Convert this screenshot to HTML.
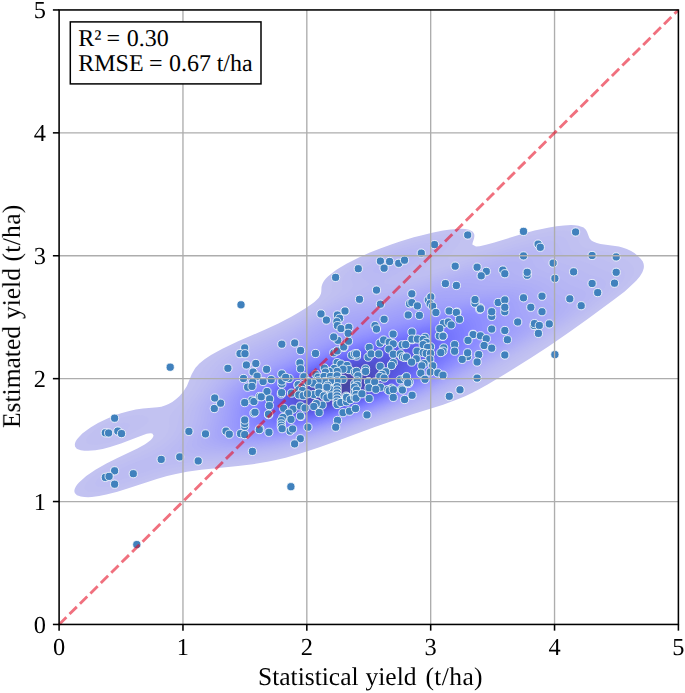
<!DOCTYPE html>
<html lang="en"><head><meta charset="utf-8"><title>Estimated vs statistical yield</title>
<style>html,body{margin:0;padding:0;background:#fff}body{width:685px;height:693px;overflow:hidden}svg{display:block}text{font-family:"Liberation Serif","Times New Roman",serif;fill:#000;text-rendering:geometricPrecision}</style></head><body>
<svg width="685" height="693" viewBox="0 0 685 693">
<rect width="685" height="693" fill="#fff"/>
<g id="kde" shape-rendering="geometricPrecision">
<path fill="#c2c2f1" d="M76.9,495.2 80.8,496.6 84.4,497.1 88.1,497.2 91.8,497.0 99.1,496.0 106.4,494.6 117.4,491.7 128.4,488.3 157.6,478.8 167.1,476.1 175.9,474.0 186.9,471.8 201.2,469.7 238.1,466.1 252.8,464.3 267.4,461.8 274.7,460.3 285.7,457.7 300.4,453.6 318.7,447.6 337.0,441.0 374.1,427.3 392.2,420.9 411.7,414.5 443.1,404.8 457.7,399.3 465.1,396.2 472.4,392.7 479.5,389.0 487.2,384.8 501.4,376.3 531.9,357.2 549.2,345.9 569.8,331.7 587.7,319.0 613.8,299.8 624.7,291.4 629.6,287.1 636.2,280.7 639.8,276.5 642.4,272.2 643.2,270.1 643.8,268.0 643.9,265.9 643.6,263.7 642.8,261.6 640.7,258.7 637.1,255.2 634.4,253.1 631.1,251.0 626.8,248.9 622.4,247.4 618.8,246.5 600.5,243.9 596.8,243.1 593.1,241.6 591.4,240.4 589.5,238.3 588.6,236.1 587.1,231.9 585.9,229.8 583.6,227.6 582.2,226.9 578.5,225.8 574.8,225.3 571.2,225.1 563.9,225.4 556.5,226.3 549.2,227.5 541.9,228.9 534.6,230.6 523.6,233.5 494.4,242.5 487.0,244.6 479.7,246.2 476.0,246.6 472.3,244.6 472.7,242.5 474.1,238.3 474.4,236.1 474.2,234.0 472.9,231.9 472.4,231.5 469.1,229.8 465.1,229.0 461.4,228.8 457.7,228.9 450.4,229.5 443.1,230.6 432.1,232.7 421.1,235.4 413.8,237.3 399.2,241.8 391.9,244.2 380.9,248.2 369.9,252.5 358.9,257.5 346.5,263.7 339.3,268.0 336.1,270.1 330.4,274.4 327.9,276.5 325.9,278.6 324.1,280.7 322.8,282.9 322.0,285.0 321.5,287.1 321.3,291.4 321.0,293.5 320.1,295.6 318.8,297.7 316.8,299.8 314.4,302.0 311.7,304.1 305.5,308.3 298.6,312.6 291.3,316.8 278.4,323.5 265.3,329.6 238.1,341.2 222.4,348.7 211.0,355.1 204.6,359.3 199.4,363.6 195.5,367.8 194.1,369.9 191.7,374.2 186.9,385.9 183.2,391.7 179.6,395.9 175.9,399.2 172.3,401.9 168.6,404.1 165.0,405.6 161.3,406.7 157.6,407.3 143.0,408.5 135.7,409.6 128.4,411.2 121.0,413.2 117.4,414.4 113.7,415.8 106.4,418.9 98.0,423.0 90.9,427.3 87.7,429.4 82.3,433.6 78.1,437.9 76.5,440.0 75.4,442.1 74.8,444.3 75.0,446.4 76.5,448.5 77.1,448.9 80.8,450.3 84.4,450.8 88.1,450.8 95.4,450.2 102.7,448.9 110.1,447.1 121.0,443.6 139.3,436.4 146.7,433.8 150.3,433.2 152.3,433.6 153.6,435.8 152.5,437.9 150.8,440.0 148.2,442.1 145.1,444.3 137.4,448.5 117.4,457.9 106.4,463.5 95.4,469.8 86.2,476.1 81.2,480.4 79.0,482.5 77.2,484.6 75.7,486.7 74.7,488.9 74.3,491.0 74.8,493.1Z"/>
<path fill="#c0c0f1" d="M87.1,491.0 88.1,491.4 91.8,492.1 95.4,492.2 102.7,491.5 110.1,490.2 117.4,488.3 124.7,486.2 150.3,477.7 161.3,474.2 170.2,471.9 180.0,469.7 190.6,468.0 201.5,466.6 212.2,465.5 241.8,462.9 252.8,461.5 260.1,460.5 271.1,458.5 282.1,456.1 289.4,454.3 304.0,450.1 318.7,445.4 337.0,438.9 392.0,418.8 439.4,402.8 454.1,397.3 461.4,394.2 468.7,390.7 479.7,384.9 487.2,380.5 549.2,341.8 564.5,331.7 579.8,321.1 594.3,310.5 608.4,299.8 616.4,293.5 623.6,287.1 627.8,282.9 629.5,280.7 632.4,276.5 633.4,274.4 634.0,272.2 634.1,270.1 633.7,268.0 632.7,265.9 630.8,263.7 628.2,261.6 621.4,257.4 615.1,254.3 611.4,253.0 607.8,252.1 589.5,249.1 585.8,248.0 582.9,246.8 580.3,244.6 578.9,242.5 576.5,236.1 574.8,233.9 571.2,231.7 567.5,230.9 563.9,230.6 556.5,230.9 549.2,231.8 541.9,233.2 530.9,235.8 512.6,241.3 483.2,251.0 469.7,255.3 461.4,257.6 453.0,259.5 450.4,259.8 448.4,259.5 447.8,257.4 449.3,255.3 455.0,248.9 458.5,244.6 459.8,242.5 460.7,240.4 460.9,238.3 459.7,236.1 457.7,235.1 454.1,234.1 450.4,233.9 446.8,233.9 439.4,234.7 432.1,235.9 421.1,238.2 410.2,241.1 399.2,244.4 388.2,248.1 377.2,252.4 366.2,257.1 357.0,261.6 349.5,265.9 346.1,268.0 340.3,272.2 337.9,274.4 335.9,276.5 334.3,278.6 333.1,280.7 332.4,282.9 332.2,285.0 332.2,289.2 331.7,291.4 330.6,293.5 329.0,295.6 326.7,297.7 324.1,299.8 318.1,304.1 311.4,308.3 300.7,314.7 289.4,321.0 282.1,324.8 267.4,331.6 241.8,342.8 229.6,348.7 221.9,352.9 218.5,355.1 215.3,357.2 209.8,361.4 205.5,365.7 203.7,367.8 202.2,369.9 199.8,374.2 194.2,385.9 190.6,391.6 186.9,396.3 183.2,400.5 173.9,410.3 170.6,414.5 169.6,416.6 169.2,418.8 169.2,425.1 169.1,427.3 168.7,429.4 167.9,431.5 166.7,433.6 165.3,435.8 163.4,437.9 161.2,440.0 157.6,442.8 152.1,446.4 148.2,448.5 139.2,452.8 121.0,460.6 113.7,464.0 102.9,469.7 96.2,474.0 90.7,478.2 88.5,480.4 86.6,482.5 85.3,484.6 84.5,486.7 84.8,488.9ZM89.0,444.3 91.8,444.8 95.4,444.9 99.1,444.7 102.7,444.1 110.1,442.3 113.7,441.2 122.4,437.9 131.4,433.6 135.3,431.5 142.0,427.3 144.8,425.1 147.1,423.0 148.6,420.9 148.8,418.8 146.7,416.6 143.0,415.5 139.3,415.1 135.7,415.1 132.0,415.4 124.7,416.7 117.4,418.8 110.1,421.6 102.6,425.1 95.7,429.4 91.8,432.4 88.3,435.8 86.8,437.9 86.0,440.0 86.2,442.1 88.1,443.9Z"/>
<path fill="#bebef2" d="M98.5,486.7 102.7,487.1 106.4,486.9 110.1,486.4 117.4,484.9 124.7,482.9 132.0,480.6 154.0,473.0 161.3,470.8 168.6,468.9 179.6,466.6 187.1,465.5 197.9,464.2 238.1,460.9 252.8,459.3 260.1,458.3 271.1,456.4 282.1,454.0 289.4,452.2 307.7,447.0 326.0,441.0 344.3,434.5 398.9,414.5 432.1,402.8 450.4,395.8 457.7,392.6 468.7,387.3 476.0,383.4 483.4,379.2 545.6,341.1 560.1,331.7 572.5,323.2 584.2,314.7 598.1,304.1 608.6,295.6 615.7,289.2 619.7,285.0 621.4,282.9 622.9,280.7 623.9,278.6 624.6,276.5 624.8,274.4 624.3,272.2 623.0,270.1 622.4,269.5 618.8,266.9 607.8,261.5 603.4,259.5 596.8,257.4 582.2,254.5 578.5,253.6 574.8,252.1 573.0,251.0 570.7,248.9 569.5,246.8 567.9,242.5 567.0,240.4 565.1,238.3 563.9,237.4 560.2,236.1 556.5,235.7 552.9,235.7 545.6,236.5 538.3,237.8 527.3,240.4 509.0,245.9 461.7,261.6 448.4,265.9 435.8,269.4 432.1,270.3 428.5,270.7 424.8,270.5 424.2,270.1 424.6,268.0 428.9,263.7 441.9,253.1 446.2,248.9 447.9,246.8 449.1,244.6 449.5,242.5 448.6,240.4 446.8,239.4 443.1,238.6 439.4,238.4 435.8,238.6 428.5,239.6 421.1,240.9 413.8,242.7 402.8,245.7 391.9,249.3 380.9,253.5 369.9,258.2 359.2,263.7 352.5,268.0 347.1,272.2 345.1,274.4 343.5,276.5 342.5,278.6 342.0,280.7 342.3,287.1 341.8,289.2 340.6,291.4 338.7,293.5 336.3,295.6 330.3,299.8 312.7,310.5 300.4,317.6 289.4,323.6 274.7,331.0 249.1,342.3 238.1,347.5 228.2,352.9 221.6,357.2 218.8,359.3 214.0,363.6 210.2,367.8 207.3,372.1 201.7,382.7 197.9,388.9 194.2,394.0 184.8,406.0 182.0,410.3 180.9,412.4 179.3,416.6 177.4,425.1 176.1,429.4 173.8,433.6 172.3,435.8 170.4,437.9 168.3,440.0 163.1,444.3 157.6,447.9 154.0,449.9 143.6,454.9 128.4,461.2 118.6,465.5 110.3,469.7 103.4,474.0 100.6,476.1 98.2,478.2 96.4,480.4 95.2,482.5 95.2,484.6 95.4,484.9ZM100.1,435.8 102.7,437.6 106.4,437.6 110.1,436.8 114.0,435.8 119.2,433.6 123.3,431.5 124.7,430.6 126.5,429.4 128.8,427.3 129.8,425.1 128.4,423.2 124.7,422.8 121.0,423.3 114.4,425.1 109.5,427.3 105.7,429.4 102.7,431.5 100.9,433.6Z"/>
<path fill="#bcbcf2" d="M109.6,480.4 113.7,480.8 117.4,480.5 124.7,478.8 133.7,476.1 154.0,469.1 161.3,466.9 172.3,464.5 180.1,463.4 190.6,462.2 238.1,458.8 252.8,457.3 263.8,455.8 274.7,453.8 285.7,451.4 293.0,449.6 300.4,447.5 315.0,443.1 333.3,436.9 351.6,430.4 413.8,407.5 432.1,400.6 443.1,396.3 454.1,391.5 461.4,388.1 468.7,384.3 479.7,378.2 539.5,342.3 553.0,333.8 565.7,325.3 577.4,316.8 591.1,306.2 601.2,297.7 608.0,291.4 611.8,287.1 614.5,282.9 615.3,280.7 615.5,278.6 614.9,276.5 612.9,274.4 611.4,273.4 607.8,271.7 598.3,268.0 589.1,263.7 582.4,261.6 571.2,258.8 567.2,257.4 563.9,255.3 561.9,253.1 560.7,251.0 559.1,246.8 557.9,244.6 556.5,243.1 555.7,242.5 552.9,241.3 549.2,240.7 545.6,240.7 538.3,241.5 530.9,242.9 520.0,245.7 498.0,252.4 432.1,274.3 424.2,276.5 413.8,278.7 410.2,278.9 406.3,278.6 404.9,276.5 406.2,274.4 408.7,272.2 411.5,270.1 426.7,259.5 432.2,255.3 434.5,253.1 436.5,251.0 438.1,248.9 438.9,246.8 438.3,244.6 435.8,243.4 432.1,242.9 428.5,242.9 424.8,243.3 417.5,244.5 410.2,246.2 400.5,248.9 391.9,251.8 382.7,255.3 373.2,259.5 365.2,263.7 358.8,268.0 356.2,270.1 354.1,272.2 352.5,274.4 351.6,276.5 351.4,278.6 351.7,280.7 352.5,282.9 353.0,285.0 352.6,287.1 351.2,289.2 349.0,291.4 343.0,295.6 332.1,302.0 289.4,326.1 274.7,333.4 250.4,344.4 241.6,348.7 237.6,350.8 230.8,354.8 224.5,359.3 219.7,363.6 217.7,365.7 214.3,369.9 205.2,384.8 201.5,390.1 192.8,401.8 189.9,406.0 187.5,410.3 185.8,414.5 183.3,425.1 181.7,429.4 179.4,433.6 176.2,437.9 174.2,440.0 172.1,442.1 167.1,446.4 161.3,450.5 157.6,452.6 154.0,454.6 146.7,458.0 128.4,465.3 123.3,467.6 119.1,469.7 115.4,471.9 112.3,474.0 109.8,476.1 108.6,478.2Z"/>
<path fill="#babaf3" d="M163.2,459.1 165.0,459.6 168.6,459.9 175.9,459.9 208.9,458.7 234.5,457.2 249.1,456.0 263.8,454.1 274.7,452.1 285.7,449.8 304.0,445.0 315.0,441.6 329.6,436.8 347.9,430.4 377.2,419.7 410.2,407.4 428.5,400.2 443.1,394.2 450.4,390.9 461.4,385.6 472.4,379.7 487.0,371.3 530.9,345.3 542.8,338.1 556.0,329.6 565.2,323.2 576.5,314.7 586.8,306.2 594.0,299.8 600.4,293.5 603.7,289.2 604.9,287.1 605.7,285.0 605.7,282.9 604.7,280.7 604.1,280.2 601.6,278.6 600.5,278.1 588.6,274.4 585.8,273.1 580.3,270.1 575.9,268.0 571.2,266.3 563.0,263.7 558.0,261.6 554.9,259.5 553.1,257.4 552.0,255.3 550.4,251.0 549.1,248.9 546.3,246.8 545.6,246.5 541.9,245.7 538.3,245.6 530.9,246.4 523.6,247.9 516.3,249.7 505.3,252.8 487.0,258.6 461.4,267.0 439.4,274.5 424.8,279.2 417.5,281.3 410.2,283.1 402.8,284.3 399.2,284.8 395.5,284.9 391.9,284.8 388.2,284.3 383.6,282.9 384.5,280.7 387.5,278.6 410.2,265.9 419.9,259.5 425.0,255.3 426.9,253.1 428.1,251.0 427.7,248.9 424.8,247.7 421.1,247.5 413.8,248.3 410.2,249.0 402.2,251.0 395.5,253.1 388.2,255.8 379.6,259.5 371.6,263.7 368.3,265.9 365.6,268.0 363.4,270.1 361.9,272.2 361.3,274.4 361.7,276.5 362.6,277.9 363.3,278.6 369.1,282.9 369.0,285.0 366.0,287.1 358.2,291.4 340.6,300.2 326.0,307.8 296.7,324.4 285.7,330.4 274.7,335.9 251.5,346.6 243.2,350.8 234.5,356.0 229.8,359.3 227.3,361.4 222.9,365.7 219.4,369.9 209.3,384.8 199.7,397.5 195.4,403.9 193.0,408.2 191.2,412.4 190.0,416.6 188.6,423.0 187.3,427.3 185.3,431.5 183.2,435.0 179.6,439.9 175.9,444.1 165.1,454.9 163.3,457.0Z"/>
<path fill="#b8b8f4" d="M181.2,454.9 183.2,455.4 186.9,456.0 190.6,456.3 197.9,456.6 212.5,456.5 230.8,455.8 245.5,454.7 256.4,453.5 267.4,452.0 282.1,449.2 289.4,447.5 304.0,443.6 318.7,439.2 333.3,434.3 373.6,419.9 395.5,411.6 417.5,403.1 428.5,398.6 443.1,392.3 454.4,386.9 465.1,381.4 479.7,373.3 520.0,349.9 536.1,340.2 546.3,333.8 558.9,325.3 567.5,319.0 575.4,312.6 584.8,304.1 590.9,297.7 594.1,293.5 595.1,291.4 595.7,289.2 595.4,287.1 593.1,284.7 589.5,283.3 582.2,281.2 578.5,279.9 574.8,278.0 569.2,274.4 565.2,272.2 560.2,270.3 552.9,267.7 548.9,265.9 546.0,263.7 544.2,261.6 543.1,259.5 541.4,255.3 539.8,253.1 538.3,252.0 535.4,251.0 530.9,250.6 527.3,250.8 523.6,251.3 516.3,252.8 509.0,254.6 498.0,257.7 468.7,266.8 421.1,282.6 410.2,285.8 402.8,287.5 395.5,288.8 391.9,289.3 377.2,290.5 369.9,291.8 362.6,293.8 355.3,296.3 344.3,301.0 329.6,308.1 318.7,314.0 296.7,326.7 285.7,332.8 274.7,338.3 257.2,346.6 248.7,350.8 241.8,354.7 238.0,357.2 234.5,359.8 230.0,363.6 225.9,367.8 222.5,372.1 203.2,397.5 199.0,403.9 196.8,408.2 195.2,412.4 192.8,423.0 190.6,429.4 186.9,436.1 181.4,444.3 178.8,448.5 178.1,450.6 178.3,452.8 179.6,454.0ZM374.4,272.2 377.2,273.2 380.9,273.2 384.5,272.7 388.2,271.7 391.9,270.4 395.5,268.9 402.8,265.4 409.0,261.6 411.9,259.5 414.3,257.4 415.5,255.3 413.8,253.1 410.2,253.0 406.5,253.5 398.9,255.3 392.5,257.4 388.2,259.1 383.0,261.6 379.3,263.7 376.3,265.9 374.2,268.0 373.2,270.1 373.6,271.2Z"/>
<path fill="#b6b6f4" d="M191.6,452.8 197.9,453.8 208.9,454.5 223.5,454.4 238.1,453.8 249.1,452.9 260.1,451.6 274.7,449.3 285.7,447.0 293.0,445.3 307.7,441.4 329.6,434.4 347.9,428.1 369.9,420.1 388.2,413.3 410.2,404.8 424.8,398.8 439.4,392.3 450.8,386.9 461.4,381.5 476.0,373.4 509.0,354.5 526.1,344.4 539.9,336.0 549.6,329.6 558.5,323.2 564.0,319.0 571.5,312.6 578.1,306.2 581.8,302.0 584.6,297.7 585.5,295.6 585.8,293.5 584.8,291.4 582.2,289.4 571.2,285.5 567.5,283.5 560.7,278.6 557.1,276.5 552.9,274.7 541.9,270.8 538.3,268.9 536.9,268.0 534.9,265.9 533.7,263.7 531.7,259.5 530.9,258.6 529.5,257.4 527.3,256.5 523.6,255.9 520.0,256.0 516.3,256.4 509.0,257.7 501.7,259.4 487.0,263.5 461.4,271.3 421.1,284.7 406.5,289.1 395.5,291.6 388.2,292.8 373.6,294.7 366.2,296.0 362.6,296.9 355.3,299.1 347.9,301.9 337.0,306.6 326.0,312.1 315.0,318.1 296.7,328.9 285.7,335.2 274.7,340.8 258.4,348.7 250.3,352.9 245.5,355.8 240.2,359.3 237.4,361.4 232.6,365.7 228.6,369.9 224.9,374.2 211.1,391.2 204.9,399.7 203.5,401.8 201.2,406.0 200.3,408.2 198.9,412.4 196.5,423.0 195.2,427.3 193.4,431.5 187.7,442.1 186.8,444.3 186.2,446.4 186.1,448.5 187.3,450.6 190.6,452.4Z"/>
<path fill="#b4b4f5" d="M218.2,452.8 227.2,452.7 238.1,452.3 249.1,451.5 260.1,450.3 267.4,449.3 278.4,447.4 289.4,445.0 296.7,443.2 304.0,441.3 318.7,436.9 333.3,432.2 351.6,425.8 373.6,417.8 391.9,410.9 406.5,405.2 421.1,399.1 434.3,393.3 446.8,387.3 465.1,377.8 483.4,367.5 512.3,350.8 526.7,342.3 540.2,333.8 549.6,327.5 555.3,323.2 560.6,319.0 567.6,312.6 571.5,308.3 574.7,304.1 575.7,302.0 576.4,299.8 576.3,297.7 574.8,295.4 571.5,293.5 566.4,291.4 562.4,289.2 560.2,287.8 554.4,282.9 551.2,280.7 545.6,278.2 533.2,274.4 528.0,272.2 525.1,270.1 523.4,268.0 522.1,265.9 520.5,263.7 520.0,263.3 516.3,261.7 512.6,261.4 509.0,261.6 505.3,262.1 498.0,263.5 479.7,268.0 465.1,272.2 454.1,275.6 419.4,287.1 406.5,291.1 399.2,293.1 391.9,294.7 384.5,296.0 369.9,298.2 362.6,299.6 358.9,300.6 351.6,302.8 340.6,307.1 333.3,310.4 322.3,316.1 313.6,321.1 296.7,331.3 285.7,337.7 278.4,341.6 259.9,350.8 252.8,354.7 248.6,357.2 241.8,361.9 238.1,364.9 234.5,368.2 227.2,375.8 217.4,386.9 213.9,391.2 209.2,397.5 206.5,401.8 204.3,406.0 203.5,408.2 202.2,412.4 200.5,420.9 199.4,425.1 197.8,429.4 193.0,440.0 192.4,442.1 192.0,444.3 192.3,446.4 193.7,448.5 197.8,450.6 201.5,451.5 205.2,452.0 212.5,452.6Z"/>
<path fill="#b2b2f5" d="M212.6,450.6 219.8,451.1 230.8,451.2 241.8,450.7 252.8,449.9 260.1,449.1 271.1,447.5 282.1,445.5 293.0,443.0 300.4,441.2 315.0,437.0 329.6,432.4 340.6,428.7 358.9,422.3 377.2,415.5 399.2,407.1 410.2,402.7 424.8,396.4 436.1,391.2 446.8,386.0 457.7,380.2 476.0,370.1 506.0,352.9 520.4,344.4 534.1,336.0 543.6,329.6 549.4,325.3 554.6,321.1 559.3,316.8 563.4,312.6 566.5,308.3 567.6,306.2 568.1,304.1 568.0,302.0 566.7,299.8 563.7,297.7 560.2,295.9 556.5,293.7 553.7,291.4 549.3,287.1 546.8,285.0 543.2,282.9 537.6,280.7 534.6,279.9 520.1,276.5 516.3,275.0 514.9,274.4 512.6,272.7 509.0,269.4 506.1,268.0 501.7,267.4 498.0,267.5 493.6,268.0 483.4,269.9 465.1,274.4 446.8,279.8 411.9,291.4 399.2,295.2 388.2,297.8 366.2,301.4 358.9,303.0 351.6,305.1 340.6,309.2 333.3,312.5 322.3,318.2 313.7,323.2 289.4,338.2 278.4,344.3 260.1,353.7 250.4,359.3 244.3,363.6 236.7,369.9 230.8,375.5 222.1,384.8 218.4,389.0 213.4,395.4 210.5,399.7 208.2,403.9 207.2,406.0 205.8,410.3 203.7,420.9 202.6,425.1 201.5,428.1 198.5,435.8 197.2,440.0 196.9,442.1 197.2,444.3 198.6,446.4 202.1,448.5 205.2,449.4 208.9,450.2Z"/>
<path fill="#b0b0f6" d="M212.4,448.5 219.8,449.4 227.2,449.7 238.1,449.6 249.1,449.0 260.1,447.9 267.4,447.0 278.4,445.1 289.4,442.8 296.7,441.1 311.3,437.1 326.0,432.7 340.6,427.8 373.6,416.0 391.9,409.1 406.5,403.2 417.5,398.6 432.1,391.9 442.3,386.9 454.6,380.5 470.0,372.1 496.1,357.2 514.2,346.6 528.0,338.1 537.6,331.7 543.4,327.5 548.8,323.2 553.4,319.0 557.2,314.7 558.7,312.6 559.9,310.5 560.6,308.3 560.6,306.2 560.2,305.2 559.6,304.1 557.3,302.0 552.9,299.0 549.2,296.1 543.0,289.2 540.3,287.1 536.3,285.0 530.9,283.2 527.3,282.3 512.6,280.1 505.1,278.6 501.7,277.3 498.0,275.5 494.3,274.0 490.7,273.4 487.0,273.3 483.4,273.5 476.0,274.5 468.7,276.0 457.7,278.6 443.1,282.8 410.2,293.7 395.5,298.1 384.5,300.8 366.2,304.0 358.9,305.4 355.3,306.3 347.9,308.6 340.6,311.3 333.1,314.7 322.3,320.4 314.1,325.3 296.7,336.5 289.4,341.0 282.1,345.1 260.1,356.6 252.8,360.9 245.5,366.0 238.1,371.9 230.8,378.6 224.8,384.8 219.2,391.2 216.0,395.4 213.2,399.7 210.9,403.9 210.0,406.0 208.7,410.3 206.7,420.9 205.6,425.1 202.6,433.6 201.4,437.9 201.2,440.0 201.4,442.1 202.6,444.3 205.4,446.4 208.9,447.7Z"/>
<path fill="#aeaef7" d="M213.2,446.4 219.8,447.6 227.2,448.2 238.1,448.3 249.1,447.8 260.1,446.8 271.1,445.4 282.1,443.4 289.4,441.8 300.4,439.2 311.3,436.2 322.3,432.9 337.0,428.2 366.2,417.9 384.5,411.1 399.2,405.3 410.2,400.8 424.8,394.3 439.4,387.2 448.3,382.7 463.8,374.2 489.9,359.3 508.1,348.7 522.0,340.2 531.6,333.8 537.6,329.6 542.9,325.3 547.5,321.1 549.5,319.0 552.6,314.7 553.5,312.6 553.8,310.5 553.3,308.3 551.8,306.2 545.6,301.1 544.4,299.8 541.9,296.9 539.4,293.5 537.5,291.4 534.8,289.2 530.9,287.2 527.3,286.0 520.0,284.6 512.6,283.8 498.0,282.8 490.7,281.4 483.4,279.2 479.7,278.6 476.0,278.4 472.4,278.6 465.1,279.6 457.7,281.0 450.4,282.7 435.8,286.9 406.5,296.6 395.5,300.1 388.2,302.1 380.9,303.8 362.6,307.1 355.3,308.8 347.9,310.9 340.6,313.6 333.3,316.9 325.3,321.1 314.8,327.5 300.4,337.0 291.9,342.3 282.1,347.9 263.8,357.4 252.8,363.8 245.5,368.8 238.7,374.2 233.9,378.4 227.4,384.8 221.7,391.2 218.4,395.4 215.7,399.7 213.5,403.9 212.0,408.2 211.5,410.3 209.0,423.0 205.7,433.6 205.0,437.9 205.1,440.0 206.0,442.1 208.2,444.3Z"/>
<path fill="#acacf7" d="M223.9,446.4 230.8,446.9 238.1,447.1 245.5,446.9 256.4,446.2 263.8,445.4 274.7,443.8 285.7,441.7 296.7,439.2 315.0,434.3 326.0,431.0 340.6,426.2 369.9,415.8 388.2,408.9 402.8,403.0 417.5,396.7 428.5,391.6 437.9,386.9 450.0,380.5 469.1,369.9 491.3,357.2 505.6,348.7 519.3,340.2 525.7,336.0 531.7,331.7 537.1,327.5 541.7,323.2 545.3,319.0 546.5,316.8 547.2,314.7 547.3,312.6 546.5,310.5 544.8,308.3 540.3,304.1 538.5,302.0 534.4,295.6 532.7,293.5 530.0,291.4 527.3,289.9 525.6,289.2 520.0,287.7 516.3,287.2 509.0,286.5 487.0,285.9 479.7,285.0 472.4,283.4 468.7,283.0 465.1,282.9 461.4,283.2 454.1,284.3 443.1,286.7 428.5,291.0 402.8,299.6 391.9,303.1 384.5,305.1 377.2,306.8 355.3,311.3 347.9,313.3 340.6,316.0 334.0,319.0 329.8,321.1 322.4,325.3 300.4,340.0 289.4,346.6 263.8,359.9 252.8,366.3 245.5,371.3 238.1,377.1 232.0,382.7 225.9,389.0 222.3,393.3 219.4,397.5 217.0,401.8 215.3,406.0 214.1,410.3 212.1,420.9 209.2,431.5 208.4,435.8 208.5,437.9 209.2,440.0 210.8,442.1 212.5,443.3 214.4,444.3 216.2,444.9 219.8,445.8Z"/>
<path fill="#aaaaf8" d="M221.8,444.3 227.2,445.2 234.5,445.7 241.8,445.8 252.8,445.4 260.1,444.8 271.1,443.4 282.1,441.5 293.0,439.2 311.3,434.5 326.0,430.2 337.0,426.6 362.6,417.8 380.9,411.0 395.5,405.2 406.5,400.7 421.1,394.1 431.7,389.0 444.1,382.7 455.8,376.3 474.4,365.7 492.6,355.1 506.7,346.6 516.7,340.2 523.0,336.0 528.7,331.7 533.8,327.5 537.9,323.2 539.5,321.1 540.6,319.0 541.2,316.8 541.1,314.7 540.2,312.6 534.6,306.1 533.3,304.1 529.9,297.7 528.2,295.6 525.8,293.5 523.6,292.3 521.5,291.4 516.3,290.0 509.0,289.1 501.7,288.9 487.0,289.2 479.1,289.2 472.4,288.6 461.9,287.1 457.7,287.0 454.1,287.2 446.8,288.2 435.8,290.8 424.8,294.1 399.2,302.7 388.2,306.1 377.2,309.0 358.9,313.0 352.1,314.7 345.4,316.8 340.6,318.6 333.3,322.0 326.0,326.1 318.7,330.7 304.5,340.2 294.0,346.6 286.1,350.8 263.8,362.1 253.9,367.8 247.5,372.1 241.8,376.4 236.8,380.5 230.1,386.9 226.3,391.2 223.1,395.4 220.4,399.7 218.4,403.9 217.1,408.2 214.7,420.9 212.5,429.4 211.7,433.6 211.6,435.8 212.1,437.9 213.3,440.0 216.2,442.3 219.8,443.7Z"/>
<path fill="#a8a8f8" d="M232.7,444.3 238.1,444.6 245.5,444.7 252.8,444.4 263.8,443.4 271.1,442.5 282.1,440.6 289.4,439.2 300.4,436.6 307.7,434.7 322.3,430.5 347.9,422.2 377.2,411.7 395.5,404.5 406.5,399.9 417.5,395.0 428.5,389.8 438.2,384.8 450.0,378.4 465.0,369.9 486.8,357.2 500.9,348.7 510.9,342.3 517.2,338.1 523.0,333.8 528.1,329.6 532.2,325.3 533.8,323.2 534.9,321.1 535.5,319.0 535.3,316.8 534.6,315.1 529.7,308.3 528.5,306.2 525.6,299.8 524.2,297.7 521.9,295.6 520.0,294.4 516.3,292.9 512.6,292.1 509.0,291.5 505.3,291.2 498.0,291.1 472.4,292.2 465.1,291.9 454.1,290.8 450.4,290.8 446.8,291.0 439.4,292.2 428.5,294.9 419.3,297.7 388.2,308.2 377.2,311.3 358.9,315.7 351.6,317.6 347.4,319.0 340.6,321.5 333.3,325.0 328.8,327.5 322.3,331.4 309.0,340.2 298.4,346.6 286.3,352.9 267.4,362.2 256.4,368.3 249.1,373.0 241.8,378.4 236.8,382.7 230.4,389.0 228.6,391.2 225.3,395.4 222.7,399.7 220.8,403.9 219.1,410.3 217.1,420.9 215.1,429.4 214.6,433.6 214.8,435.8 215.7,437.9 217.6,440.0 219.8,441.4 223.5,442.7 227.2,443.5Z"/>
<path fill="#a6a6f9" d="M228.5,442.1 234.5,443.0 241.8,443.5 249.1,443.5 260.1,442.9 271.1,441.6 278.4,440.4 285.7,439.1 296.7,436.7 307.7,433.9 318.7,430.9 340.6,424.0 369.9,413.7 388.2,406.7 399.2,402.3 410.2,397.5 421.1,392.5 432.3,386.9 444.4,380.5 459.4,372.1 477.6,361.4 491.7,352.9 505.2,344.4 514.5,338.1 520.0,333.8 524.7,329.6 526.6,327.5 528.2,325.3 529.4,323.2 529.9,321.1 529.9,319.0 529.1,316.8 525.0,310.5 523.6,307.5 521.5,302.0 520.3,299.8 518.3,297.7 516.3,296.4 512.6,294.9 509.0,294.0 505.3,293.5 498.0,293.2 490.7,293.4 472.4,294.8 465.1,295.1 457.7,295.0 446.8,294.4 443.1,294.6 435.8,295.5 424.8,298.1 413.8,301.5 384.5,311.4 373.6,314.6 358.9,318.4 351.6,320.5 344.3,323.1 340.6,324.6 337.0,326.2 329.6,330.1 309.8,342.3 298.6,348.7 290.3,352.9 267.4,364.1 256.4,370.1 250.1,374.2 244.3,378.4 238.1,383.6 232.6,389.0 229.0,393.3 226.1,397.5 224.9,399.7 223.1,403.9 222.4,406.0 221.4,410.3 219.9,418.8 218.0,427.3 217.4,431.5 217.5,433.6 218.1,435.8 219.4,437.9 222.3,440.0 223.5,440.6Z"/>
<path fill="#a4a4fa" d="M238.9,442.1 245.5,442.4 256.4,442.2 267.4,441.2 274.7,440.2 282.1,439.0 293.0,436.8 304.0,434.2 318.7,430.2 333.3,425.7 351.6,419.6 362.6,415.7 380.9,408.9 395.5,403.1 406.5,398.4 417.5,393.4 426.5,389.0 438.7,382.7 453.9,374.2 472.0,363.6 489.6,352.9 499.6,346.6 508.9,340.2 514.4,336.0 519.2,331.7 521.2,329.6 522.8,327.5 524.0,325.3 524.6,323.2 524.7,321.1 524.0,319.0 520.0,311.2 517.6,304.1 516.6,302.0 514.9,299.8 512.6,298.2 509.0,296.7 505.3,295.8 501.7,295.3 498.0,295.1 494.3,295.1 487.0,295.4 461.4,297.8 454.1,298.1 439.4,298.2 432.1,299.0 424.8,300.5 417.5,302.6 384.5,313.6 355.3,322.1 344.3,326.0 337.0,329.3 329.6,333.1 313.9,342.3 302.4,348.7 289.7,355.1 271.1,363.9 263.8,367.7 256.4,371.9 249.6,376.3 243.9,380.5 238.1,385.6 232.8,391.2 229.6,395.4 228.2,397.5 226.1,401.8 225.3,403.9 224.1,408.2 220.8,425.1 220.2,429.4 220.1,431.5 220.4,433.6 221.4,435.8 223.5,438.0 227.2,439.9 230.8,441.0 234.5,441.6Z"/>
<path fill="#a2a2fa" d="M233.7,440.0 238.1,440.8 245.5,441.3 252.8,441.4 263.8,440.7 274.7,439.4 285.7,437.5 296.7,435.2 307.7,432.5 322.3,428.4 337.0,423.9 355.3,417.7 366.2,413.8 384.5,406.9 395.5,402.4 410.2,396.1 420.6,391.2 433.2,384.8 444.8,378.4 463.1,367.8 480.7,357.2 490.8,350.8 500.4,344.4 509.0,338.1 513.8,333.8 515.8,331.7 517.5,329.6 518.8,327.5 519.5,325.3 519.7,323.2 519.3,321.1 516.4,314.7 515.6,312.6 513.9,306.2 513.0,304.1 511.6,302.0 509.0,299.8 505.3,298.3 501.7,297.5 498.0,297.1 494.3,297.0 490.7,297.0 483.4,297.4 457.7,300.3 450.4,300.9 435.8,301.7 428.5,302.6 421.1,304.1 413.8,306.1 384.5,315.8 355.3,324.7 344.3,328.8 337.0,332.1 329.6,335.8 305.9,348.7 293.1,355.1 271.1,365.5 260.1,371.3 252.8,375.8 246.2,380.5 241.1,384.8 236.8,389.0 233.2,393.3 231.7,395.4 229.2,399.7 227.4,403.9 225.8,410.3 223.1,425.1 222.7,429.4 222.8,431.5 223.4,433.6 224.8,435.8 227.6,437.9 230.8,439.2Z"/>
<path fill="#a0a0fb" d="M242.9,440.0 249.1,440.4 256.4,440.3 263.8,439.8 274.7,438.6 285.7,436.8 296.7,434.5 307.7,431.8 318.7,428.8 333.3,424.4 347.9,419.6 358.9,415.8 377.2,409.1 391.9,403.3 402.8,398.6 413.8,393.7 423.4,389.0 435.5,382.7 446.9,376.3 461.3,367.8 478.7,357.2 488.7,350.8 498.0,344.4 503.6,340.2 508.5,336.0 512.4,331.7 513.7,329.6 514.6,327.5 515.0,325.3 514.8,323.2 514.2,321.1 511.7,314.7 510.2,308.3 509.5,306.2 508.3,304.1 506.1,302.0 501.7,299.9 498.0,299.2 494.3,298.8 490.7,298.7 483.4,299.0 472.4,300.2 446.8,303.6 428.5,305.7 421.1,307.0 417.5,307.8 406.5,310.9 381.4,319.0 358.9,325.9 351.6,328.4 344.3,331.2 333.3,336.3 313.4,346.6 300.7,352.9 271.1,366.9 261.4,372.1 254.5,376.3 248.4,380.5 243.2,384.8 238.9,389.0 235.2,393.3 232.4,397.5 230.3,401.8 229.5,403.9 228.3,408.2 225.6,423.0 225.1,427.3 225.1,429.4 225.5,431.5 226.5,433.6 227.2,434.5 228.4,435.8 230.8,437.2 234.5,438.6 238.1,439.4Z"/>
<path fill="#9e9efb" d="M237.9,437.9 241.8,438.6 249.1,439.3 256.4,439.4 267.4,438.7 278.4,437.3 289.4,435.3 300.4,433.0 311.3,430.2 326.0,426.1 340.6,421.5 351.6,417.8 369.9,411.2 380.9,407.0 395.5,401.1 406.5,396.4 417.6,391.2 426.1,386.9 437.9,380.5 452.6,372.1 466.6,363.6 480.1,355.1 489.7,348.7 498.3,342.3 503.3,338.1 507.3,333.8 508.8,331.7 509.9,329.6 510.4,327.5 510.5,325.3 510.1,323.2 508.0,316.8 506.1,308.3 505.3,306.6 503.3,304.1 501.7,303.0 499.5,302.0 498.0,301.5 494.3,300.8 490.7,300.5 483.4,300.6 476.0,301.2 461.4,303.2 424.8,309.1 413.8,311.4 399.2,315.6 366.2,325.7 355.3,329.3 347.9,332.0 337.0,336.6 303.8,352.9 274.7,366.4 267.4,370.2 260.1,374.3 253.6,378.4 247.8,382.7 243.0,386.9 238.9,391.2 235.7,395.4 233.2,399.7 231.5,403.9 229.9,410.3 227.8,423.0 227.5,427.3 227.6,429.4 228.3,431.5 229.6,433.6 230.8,434.7 232.3,435.8 234.5,436.8Z"/>
<path fill="#9c9cfc" d="M245.5,437.9 252.8,438.4 260.1,438.3 267.4,437.8 274.7,437.0 285.7,435.3 293.0,433.9 300.4,432.3 315.0,428.6 329.6,424.4 344.3,419.7 362.6,413.3 373.6,409.3 384.5,405.0 399.2,398.9 410.2,394.0 420.4,389.0 432.6,382.7 443.8,376.3 458.0,367.8 471.6,359.3 481.3,352.9 490.4,346.6 495.8,342.3 500.5,338.1 502.4,336.0 504.0,333.8 505.2,331.7 506.0,329.6 506.3,327.5 506.1,325.3 504.4,319.0 502.7,310.5 501.9,308.3 500.5,306.2 498.0,304.4 494.3,303.0 490.7,302.4 487.0,302.1 479.7,302.3 468.7,303.5 446.8,307.2 424.8,311.4 413.8,313.9 406.5,315.8 384.5,322.1 362.6,328.8 351.6,332.5 344.3,335.3 329.6,341.8 306.6,352.9 282.1,364.2 271.1,369.6 263.8,373.5 259.0,376.3 252.7,380.5 247.3,384.8 242.8,389.0 239.1,393.3 236.3,397.5 234.2,401.8 233.5,403.9 232.3,408.2 230.2,420.9 229.7,425.1 229.8,427.3 230.2,429.4 231.1,431.5 232.9,433.6 234.5,434.7 236.6,435.8 238.1,436.3 241.8,437.3Z"/>
<path fill="#9a9afc" d="M241.4,435.8 245.5,436.6 252.8,437.4 260.1,437.4 271.1,436.7 282.1,435.2 289.4,434.0 300.4,431.6 311.3,429.0 322.3,425.9 337.0,421.5 347.9,417.9 366.2,411.4 377.2,407.3 391.9,401.4 402.8,396.7 414.7,391.2 423.2,386.9 435.0,380.5 445.9,374.2 459.8,365.7 473.0,357.2 482.4,350.8 490.8,344.4 495.6,340.2 499.4,336.0 500.7,333.8 501.7,331.7 502.2,329.6 502.3,327.5 502.0,325.3 500.6,319.0 499.5,312.6 498.8,310.5 497.6,308.3 495.2,306.2 494.3,305.8 490.7,304.5 487.0,303.9 483.4,303.8 476.0,304.1 465.1,305.4 454.1,307.3 443.1,309.5 424.8,313.4 406.5,317.8 391.9,321.8 369.9,328.2 355.3,332.9 344.3,337.0 329.6,343.3 277.1,367.8 271.1,370.8 263.8,374.8 257.9,378.4 251.9,382.7 246.9,386.9 242.8,391.2 239.5,395.4 237.1,399.7 235.4,403.9 233.8,410.3 232.2,420.9 231.9,425.1 232.1,427.3 232.7,429.4 234.0,431.5 234.5,432.0 236.5,433.6 238.1,434.5Z"/>
<path fill="#9898fd" d="M247.8,435.8 252.8,436.3 260.1,436.5 267.4,436.2 278.4,435.1 285.7,434.0 296.7,431.8 304.0,430.2 318.7,426.4 340.6,419.8 358.9,413.5 369.9,409.5 380.9,405.3 395.5,399.3 406.5,394.4 417.6,389.0 429.8,382.7 440.9,376.3 451.4,369.9 464.8,361.4 474.3,355.1 483.2,348.7 488.4,344.4 492.9,340.2 494.8,338.1 496.3,336.0 497.5,333.8 498.2,331.7 498.5,329.6 498.4,327.5 498.1,325.3 496.3,314.7 495.7,312.6 494.8,310.5 492.8,308.3 490.7,307.1 487.0,306.0 483.4,305.5 479.7,305.4 476.0,305.5 468.7,306.2 457.7,307.9 439.4,311.7 413.8,317.7 395.5,322.5 366.2,330.9 355.3,334.5 344.3,338.5 333.3,343.1 322.3,348.1 285.7,364.8 274.7,370.1 267.1,374.2 260.1,378.4 256.4,380.8 251.3,384.8 246.6,389.0 242.9,393.3 240.0,397.5 238.0,401.8 237.2,403.9 236.1,408.2 234.7,416.6 234.1,423.0 234.1,425.1 234.5,427.3 235.4,429.4 237.0,431.5 238.1,432.4 240.3,433.6 241.8,434.2 245.5,435.3Z"/>
<path fill="#9696fd" d="M244.6,433.6 249.1,434.7 256.4,435.5 263.8,435.6 271.1,435.2 278.4,434.4 289.4,432.6 300.4,430.4 311.3,427.8 326.0,423.7 337.0,420.4 351.6,415.6 362.6,411.7 380.9,404.8 391.9,400.3 402.8,395.5 412.0,391.2 420.5,386.9 432.2,380.5 443.0,374.2 456.6,365.7 466.3,359.3 475.4,352.9 483.6,346.6 488.3,342.3 491.9,338.1 493.3,336.0 494.2,333.8 494.8,331.7 494.9,329.6 494.5,325.3 493.2,316.8 492.7,314.7 491.9,312.6 490.4,310.5 487.0,308.4 483.4,307.4 479.7,307.1 476.0,307.0 468.7,307.5 457.7,309.2 443.1,312.1 428.5,315.6 402.8,322.1 369.9,331.2 358.9,334.6 347.9,338.5 337.0,342.8 326.0,347.6 289.4,364.2 278.4,369.4 271.1,373.2 263.8,377.3 258.8,380.5 253.2,384.8 250.7,386.9 246.5,391.2 243.2,395.4 240.8,399.7 239.1,403.9 237.5,410.3 236.3,418.8 236.2,423.0 236.4,425.1 236.9,427.3 238.1,429.5 240.3,431.5 241.8,432.4Z"/>
<path fill="#9494fe" d="M249.9,433.6 256.4,434.5 263.8,434.7 271.1,434.4 278.4,433.7 285.7,432.6 296.7,430.6 315.0,426.3 322.3,424.2 337.0,419.9 351.6,415.0 366.2,409.8 380.9,404.2 391.9,399.7 402.8,394.9 415.0,389.0 423.2,384.8 434.5,378.4 451.7,367.8 461.4,361.4 470.6,355.1 478.9,348.7 483.7,344.4 487.6,340.2 489.1,338.1 490.3,336.0 491.1,333.8 491.5,331.7 491.6,329.6 491.1,325.3 490.2,319.0 489.8,316.8 489.1,314.7 487.9,312.6 487.0,311.7 485.2,310.5 483.4,309.7 479.7,308.9 476.0,308.6 472.4,308.6 465.1,309.3 454.1,311.0 443.1,313.3 424.8,317.7 399.2,324.4 369.9,332.5 355.3,337.1 344.3,341.1 333.3,345.5 318.7,352.0 289.4,365.2 278.4,370.5 271.3,374.2 264.0,378.4 260.1,381.0 255.0,384.8 250.3,389.0 248.3,391.2 245.0,395.4 242.5,399.7 240.9,403.9 240.2,406.0 239.0,412.4 238.5,416.6 238.2,420.9 238.2,423.0 238.6,425.1 239.4,427.3 240.9,429.4 241.8,430.2 243.7,431.5 245.5,432.3Z"/>
<path fill="#9191fe" d="M258.0,433.6 263.8,433.9 271.1,433.6 278.4,433.0 285.7,432.0 293.0,430.7 304.0,428.4 315.0,425.7 326.0,422.7 337.0,419.3 347.9,415.8 362.6,410.6 377.2,405.1 388.2,400.7 399.2,395.9 409.4,391.2 417.8,386.9 425.7,382.7 436.7,376.3 446.9,369.9 456.6,363.6 465.8,357.2 471.5,352.9 476.8,348.7 481.4,344.4 485.0,340.2 486.4,338.1 487.4,336.0 488.0,333.8 488.3,331.7 488.2,327.5 487.3,321.1 486.4,316.8 485.3,314.7 483.3,312.6 479.7,311.0 476.0,310.3 472.4,310.1 468.7,310.2 465.1,310.5 457.7,311.5 446.8,313.6 435.8,316.2 413.8,321.8 380.9,330.6 366.2,334.8 358.9,337.1 347.9,340.9 337.0,345.1 326.0,349.8 296.7,362.9 282.1,369.7 274.7,373.4 269.5,376.3 262.6,380.5 256.8,384.8 252.1,389.0 248.3,393.3 245.4,397.5 243.3,401.8 242.0,406.0 240.8,412.4 240.2,418.8 240.3,423.0 240.9,425.1 241.9,427.3 243.8,429.4 245.5,430.5 247.6,431.5 252.8,433.0Z"/>
<path fill="#9090fe" d="M252.0,431.5 256.4,432.4 263.8,433.0 271.1,432.9 278.4,432.3 285.7,431.3 296.7,429.4 307.7,427.0 318.7,424.2 326.0,422.1 340.6,417.7 355.3,412.7 369.9,407.4 380.9,403.1 391.9,398.6 402.8,393.7 412.4,389.0 420.5,384.8 431.8,378.4 442.2,372.1 451.9,365.7 461.1,359.3 469.6,352.9 474.7,348.7 479.1,344.4 482.4,340.2 483.6,338.1 484.5,336.0 485.1,333.8 485.3,329.6 484.9,325.3 484.2,321.1 483.7,319.0 482.8,316.8 481.1,314.7 479.7,313.7 476.0,312.3 472.4,311.8 468.7,311.7 461.4,312.2 450.4,314.0 439.4,316.4 424.8,320.0 391.9,328.7 377.2,332.7 362.6,337.0 355.3,339.4 344.3,343.3 333.3,347.6 318.7,353.9 296.7,363.8 282.1,370.7 275.2,374.2 267.8,378.4 263.8,381.0 258.6,384.8 253.8,389.0 251.8,391.2 248.4,395.4 246.0,399.7 244.3,403.9 242.9,410.3 242.3,414.5 242.1,418.8 242.5,423.0 243.2,425.1 244.5,427.3 245.5,428.2 247.0,429.4 249.1,430.5Z"/>
<path fill="#8d8dff" d="M257.9,431.5 263.8,432.1 271.1,432.1 278.4,431.6 285.7,430.7 300.4,428.1 311.3,425.5 322.3,422.7 333.3,419.5 344.3,416.0 358.9,410.9 369.9,406.9 380.9,402.6 391.9,398.0 402.4,393.3 411.1,389.0 419.3,384.8 430.5,378.4 437.4,374.2 447.2,367.8 456.5,361.4 465.1,355.1 470.3,350.8 474.8,346.6 478.5,342.3 479.9,340.2 481.0,338.1 481.8,336.0 482.2,333.8 482.3,329.6 481.9,325.3 481.1,321.1 480.4,319.0 479.0,316.8 476.1,314.7 472.4,313.6 468.7,313.2 465.1,313.2 457.7,313.9 446.8,315.8 435.8,318.3 388.2,330.7 373.6,334.8 358.9,339.2 351.6,341.6 340.6,345.7 326.0,351.7 311.3,358.1 293.0,366.3 281.2,372.1 273.2,376.3 267.4,379.8 263.2,382.7 257.8,386.9 255.5,389.0 251.6,393.3 248.8,397.5 246.7,401.8 245.4,406.0 244.3,412.4 244.0,418.8 244.1,420.9 244.6,423.0 245.5,425.1 247.2,427.3 249.1,428.7 250.4,429.4 252.8,430.3Z"/>
<path fill="#8c8cff" d="M254.3,429.4 256.4,430.0 260.1,430.7 263.8,431.2 271.1,431.3 278.4,430.9 285.7,430.0 296.7,428.2 304.0,426.7 315.0,424.1 326.0,421.1 337.0,417.8 351.6,413.0 362.6,409.1 373.6,405.0 384.5,400.6 396.5,395.4 405.6,391.2 414.0,386.9 421.8,382.7 429.2,378.4 439.4,372.1 448.9,365.7 457.8,359.3 465.9,352.9 470.6,348.7 474.5,344.4 476.1,342.3 477.4,340.2 478.4,338.1 479.1,336.0 479.4,333.8 479.5,329.6 479.0,325.3 477.9,321.1 476.8,319.0 476.0,318.1 474.5,316.8 472.4,315.8 468.7,314.9 465.1,314.7 457.7,315.1 450.4,316.2 439.4,318.4 424.8,322.0 377.2,334.7 362.6,339.0 351.6,342.6 337.0,348.0 322.3,354.1 304.0,362.2 287.3,369.9 278.9,374.2 271.4,378.4 264.9,382.7 262.0,384.8 257.2,389.0 255.1,391.2 251.7,395.4 250.4,397.5 248.4,401.8 247.1,406.0 246.0,412.4 245.8,416.6 245.9,418.8 246.2,420.9 246.8,423.0 248.0,425.1 250.1,427.3 252.8,428.8Z"/>
<path fill="#8a8aff" d="M258.9,429.4 263.8,430.2 271.1,430.5 278.4,430.2 285.7,429.4 293.0,428.3 304.0,426.2 311.3,424.5 322.3,421.7 333.3,418.5 344.3,415.0 355.3,411.3 366.2,407.3 377.2,403.1 388.2,398.5 399.9,393.3 408.6,389.0 416.7,384.8 424.3,380.5 431.3,376.3 441.2,369.9 450.3,363.6 458.8,357.2 464.0,352.9 468.6,348.7 470.6,346.6 473.8,342.3 475.0,340.2 475.9,338.1 476.4,336.0 476.8,331.7 476.5,327.5 475.6,323.2 474.6,321.1 472.4,318.6 468.5,316.8 465.1,316.3 461.4,316.2 454.1,316.7 446.8,317.9 435.8,320.2 421.1,323.9 388.2,332.6 373.6,336.6 358.9,341.0 351.6,343.4 340.6,347.4 329.6,351.8 315.0,358.1 296.7,366.3 284.8,372.1 276.8,376.3 269.7,380.5 266.6,382.7 261.1,386.9 258.8,389.0 254.9,393.3 253.3,395.4 250.9,399.7 249.3,403.9 248.7,406.0 247.9,410.3 247.6,416.6 247.8,418.8 248.2,420.9 249.0,423.0 250.5,425.1 252.8,427.0 256.4,428.7Z"/>
<path fill="#8888ff" d="M265.7,429.4 271.1,429.7 274.7,429.7 282.1,429.2 289.4,428.3 296.7,427.1 307.7,424.8 318.7,422.1 326.0,420.1 337.0,416.9 347.9,413.3 358.9,409.5 369.9,405.4 389.2,397.5 398.7,393.3 407.4,389.0 415.5,384.8 423.0,380.5 430.0,376.3 439.8,369.9 448.8,363.6 457.1,357.2 462.1,352.9 466.5,348.7 470.1,344.4 471.5,342.3 472.6,340.2 473.4,338.1 473.9,336.0 474.2,333.8 474.1,329.6 473.3,325.3 472.5,323.2 471.0,321.1 468.7,319.3 467.9,319.0 465.1,318.1 461.4,317.7 457.7,317.7 450.4,318.4 439.4,320.4 428.5,323.0 413.8,326.7 373.6,337.5 358.9,341.9 347.9,345.6 337.0,349.7 322.3,355.7 300.4,365.4 285.7,372.4 278.5,376.3 271.4,380.5 265.3,384.8 262.7,386.9 258.3,391.2 256.5,393.3 253.6,397.5 251.6,401.8 250.8,403.9 249.9,408.2 249.4,414.5 249.7,418.8 250.3,420.9 251.3,423.0 253.1,425.1 256.5,427.3 260.1,428.4Z"/>
<path fill="#8686ff" d="M260.4,427.3 263.8,428.1 267.4,428.6 271.1,428.8 274.7,428.9 282.1,428.5 289.4,427.7 300.4,425.8 307.7,424.3 318.7,421.6 329.6,418.6 340.6,415.3 351.6,411.6 362.6,407.7 383.0,399.7 392.8,395.4 401.9,391.2 410.3,386.9 418.1,382.7 425.3,378.4 435.2,372.1 441.4,367.8 450.1,361.4 457.9,355.1 462.5,350.8 466.4,346.6 467.9,344.4 469.2,342.3 470.3,340.2 471.0,338.1 471.4,336.0 471.6,331.7 471.0,327.5 470.3,325.3 469.1,323.2 466.8,321.1 465.1,320.2 461.4,319.3 457.7,319.1 450.4,319.5 443.1,320.6 435.8,322.1 424.8,324.8 377.2,337.3 362.6,341.5 351.6,345.1 337.0,350.4 322.3,356.4 307.7,362.8 292.4,369.9 284.0,374.2 276.4,378.4 269.8,382.7 266.9,384.8 261.9,389.0 259.8,391.2 258.0,393.3 255.1,397.5 253.1,401.8 252.4,403.9 251.5,408.2 251.1,412.4 251.1,414.5 251.6,418.8 252.4,420.9 253.6,423.0 255.9,425.1Z"/>
<path fill="#8484ff" d="M265.3,427.3 271.1,428.0 274.7,428.1 282.1,427.8 289.4,427.1 296.7,425.9 304.0,424.6 315.0,422.1 322.3,420.2 333.3,417.1 344.3,413.6 355.3,409.9 366.2,405.8 376.6,401.8 386.8,397.5 396.2,393.3 405.0,389.0 413.0,384.8 420.5,380.5 427.4,376.3 437.0,369.9 445.7,363.6 451.1,359.3 456.1,355.1 460.6,350.8 464.3,346.6 465.8,344.4 467.0,342.3 467.9,340.2 468.6,338.1 469.0,336.0 469.1,331.7 468.8,329.6 468.2,327.5 467.2,325.3 465.1,322.9 460.9,321.1 457.7,320.6 454.1,320.5 446.8,321.1 439.4,322.3 428.5,324.7 388.2,335.2 373.6,339.1 358.9,343.4 351.6,345.8 340.6,349.8 329.6,354.1 315.0,360.3 300.4,366.9 289.7,372.1 281.7,376.3 274.6,380.5 268.4,384.8 265.8,386.9 261.3,391.2 259.5,393.3 257.9,395.4 255.5,399.7 254.0,403.9 253.5,406.0 252.9,410.3 252.9,414.5 253.1,416.6 253.6,418.8 254.5,420.9 256.4,423.4 258.9,425.1 260.1,425.7 263.8,426.9Z"/>
<path fill="#8282ff" d="M274.2,427.3 278.4,427.3 285.7,426.8 293.0,426.0 300.4,424.7 307.7,423.3 318.7,420.7 337.0,415.5 355.3,409.4 375.4,401.8 391.9,394.8 399.5,391.2 407.9,386.9 415.6,382.7 422.7,378.4 435.6,369.9 444.2,363.6 449.5,359.3 454.4,355.1 458.7,350.8 462.2,346.6 463.7,344.4 464.8,342.3 465.7,340.2 466.3,338.1 466.6,336.0 466.7,333.8 466.5,331.7 466.1,329.6 465.3,327.5 463.8,325.3 461.4,323.5 457.7,322.3 454.1,321.9 450.4,321.9 446.8,322.2 439.4,323.3 428.5,325.6 391.9,335.0 377.2,338.9 362.6,343.1 347.9,347.8 340.6,350.5 326.0,356.3 311.3,362.6 296.7,369.4 287.1,374.2 279.5,378.4 272.9,382.7 269.9,384.8 264.9,389.0 262.8,391.2 259.4,395.4 257.0,399.7 255.5,403.9 254.7,408.2 254.5,412.4 254.6,414.5 255.0,416.6 255.6,418.8 256.7,420.9 258.7,423.0 260.1,424.0 262.3,425.1 267.4,426.6 271.1,427.1Z"/>
<path fill="#7f7fff" d="M266.1,425.1 271.1,426.1 274.7,426.4 278.4,426.5 285.7,426.2 293.0,425.4 300.4,424.2 307.7,422.8 318.7,420.2 337.0,415.0 347.9,411.5 358.9,407.6 368.8,403.9 379.4,399.7 389.2,395.4 398.3,391.2 406.7,386.9 414.4,382.7 421.4,378.4 428.0,374.2 434.1,369.9 442.6,363.6 447.9,359.3 452.6,355.1 456.8,350.8 458.6,348.7 461.6,344.4 462.7,342.3 463.5,340.2 464.0,338.1 464.2,336.0 464.2,333.8 463.9,331.7 463.3,329.6 462.2,327.5 461.4,326.6 459.9,325.3 457.7,324.3 454.1,323.4 450.4,323.2 446.8,323.4 439.4,324.3 432.1,325.7 421.1,328.2 377.2,339.6 362.6,343.8 351.6,347.3 340.6,351.2 326.0,357.0 311.3,363.3 297.1,369.9 288.6,374.2 281.0,378.4 277.5,380.5 271.4,384.8 268.8,386.9 264.3,391.2 262.5,393.3 259.6,397.5 257.7,401.8 256.6,406.0 256.2,410.3 256.2,412.4 256.8,416.6 257.6,418.8 259.0,420.9 260.1,422.0 261.4,423.0 263.8,424.3Z"/>
<path fill="#7e7eff" d="M271.0,425.1 274.7,425.6 282.1,425.7 285.7,425.5 293.0,424.8 300.4,423.7 307.7,422.2 318.7,419.7 326.0,417.8 337.0,414.6 347.9,411.0 366.2,404.4 383.2,397.5 392.7,393.3 401.4,389.0 409.4,384.8 416.7,380.5 423.5,376.3 429.8,372.1 435.6,367.8 443.7,361.4 448.6,357.2 453.0,352.9 456.7,348.7 458.2,346.6 460.5,342.3 461.2,340.2 461.7,338.1 461.9,336.0 461.8,333.8 461.3,331.7 460.4,329.6 458.7,327.5 457.7,326.7 454.6,325.3 450.4,324.7 446.8,324.6 439.4,325.3 432.1,326.6 413.8,330.9 373.6,341.4 358.9,345.6 347.9,349.2 333.3,354.7 318.7,360.7 304.0,367.3 294.2,372.1 286.2,376.3 279.0,380.5 272.9,384.8 270.2,386.9 265.7,391.2 263.9,393.3 262.3,395.4 260.0,399.7 258.6,403.9 257.9,408.2 257.9,412.4 258.2,414.5 258.8,416.6 259.7,418.8 261.4,420.9 263.8,422.7 267.4,424.3Z"/>
<path fill="#7c7cfe" d="M267.5,423.0 271.1,424.1 274.7,424.7 278.4,425.0 285.7,424.8 293.0,424.2 300.4,423.1 315.0,420.1 326.0,417.3 333.3,415.2 351.6,409.3 362.6,405.4 371.8,401.8 382.0,397.5 391.5,393.3 400.2,389.0 408.2,384.8 415.5,380.5 422.2,376.3 428.4,372.1 434.2,367.8 442.1,361.4 446.9,357.2 453.1,350.8 456.2,346.6 457.4,344.4 458.4,342.3 459.0,340.2 459.4,338.1 459.5,336.0 459.2,333.8 458.6,331.7 457.3,329.6 454.5,327.5 450.4,326.3 446.8,325.9 443.1,326.0 435.8,326.9 428.5,328.2 417.5,330.7 377.2,341.1 362.6,345.2 351.6,348.7 337.0,353.9 326.0,358.3 311.3,364.6 300.4,369.7 287.6,376.3 280.4,380.5 277.2,382.7 271.6,386.9 269.2,389.0 265.3,393.3 263.8,395.4 261.5,399.7 260.1,403.9 259.5,408.2 259.6,412.4 260.0,414.5 260.7,416.6 261.9,418.8 263.8,420.9Z"/>
<path fill="#7a7afe" d="M271.4,423.0 274.7,423.7 278.4,424.1 282.1,424.2 285.7,424.2 293.0,423.6 300.4,422.6 307.7,421.2 322.3,417.8 329.6,415.9 340.6,412.5 358.9,406.3 375.9,399.7 385.7,395.4 394.7,391.2 406.9,384.8 414.2,380.5 420.9,376.3 427.0,372.1 432.7,367.8 440.5,361.4 445.2,357.2 449.4,352.9 452.8,348.7 455.4,344.4 456.3,342.3 456.8,340.2 457.1,338.1 457.1,336.0 456.6,333.8 455.7,331.7 453.7,329.6 450.4,328.0 446.8,327.4 443.1,327.3 435.8,327.9 428.5,329.1 410.2,333.3 373.6,342.8 362.6,345.9 351.6,349.3 337.0,354.6 326.0,358.9 311.3,365.3 300.4,370.4 292.9,374.2 285.3,378.4 278.6,382.7 275.7,384.8 273.0,386.9 268.5,391.2 265.2,395.4 263.9,397.5 262.1,401.8 261.2,406.0 261.1,410.3 261.3,412.4 261.8,414.5 262.7,416.6 264.1,418.8 266.5,420.9 267.4,421.4Z"/>
<path fill="#7878fd" d="M276.7,423.0 282.1,423.5 285.7,423.5 289.4,423.3 296.7,422.5 304.0,421.4 311.3,420.0 318.7,418.3 329.6,415.4 347.9,409.7 364.0,403.9 379.7,397.5 389.1,393.3 397.8,389.0 409.4,382.7 416.3,378.4 422.6,374.2 428.5,369.9 433.9,365.7 438.9,361.4 443.5,357.2 447.6,352.9 449.3,350.8 452.2,346.6 453.3,344.4 454.1,342.3 454.6,340.2 454.8,338.1 454.6,336.0 453.9,333.8 452.4,331.7 450.4,330.2 448.9,329.6 446.8,329.0 443.1,328.6 439.4,328.6 432.1,329.4 421.1,331.5 410.2,334.1 373.6,343.5 358.9,347.7 347.9,351.2 333.3,356.6 322.3,361.1 311.3,365.9 298.4,372.1 290.3,376.3 283.2,380.5 277.0,384.8 274.4,386.9 269.9,391.2 268.1,393.3 266.6,395.4 264.3,399.7 263.1,403.9 262.7,408.2 263.1,412.4 263.7,414.5 264.7,416.6 266.4,418.8 269.4,420.9 271.1,421.6 274.7,422.7Z"/>
<path fill="#7676fd" d="M272.6,420.9 274.7,421.6 278.4,422.3 282.1,422.7 289.4,422.6 296.7,422.0 304.0,420.9 311.3,419.5 318.7,417.8 326.0,416.0 337.0,412.8 355.3,406.7 373.5,399.7 388.0,393.3 400.6,386.9 408.2,382.7 415.0,378.4 421.3,374.2 427.0,369.9 432.3,365.7 437.3,361.4 441.8,357.2 445.7,352.9 449.0,348.7 450.3,346.6 451.3,344.4 452.0,342.3 452.4,340.2 452.4,338.1 452.0,336.0 451.0,333.8 448.6,331.7 446.8,330.9 443.1,330.0 439.4,329.9 432.1,330.4 424.8,331.6 417.5,333.2 377.2,343.2 366.2,346.2 355.3,349.4 340.6,354.4 329.6,358.6 318.7,363.2 307.7,368.2 299.7,372.1 291.6,376.3 284.5,380.5 281.3,382.7 275.7,386.9 273.3,389.0 269.4,393.3 267.9,395.4 266.7,397.5 265.0,401.8 264.3,406.0 264.4,410.3 264.8,412.4 265.6,414.5 266.8,416.6 268.8,418.8 271.1,420.2Z"/>
<path fill="#7474fc" d="M276.5,420.9 282.1,421.8 285.7,422.0 289.4,421.9 296.7,421.4 307.7,419.7 322.3,416.5 333.3,413.5 340.6,411.2 355.9,406.0 372.4,399.7 382.2,395.4 391.2,391.2 403.3,384.8 410.4,380.5 416.9,376.3 422.8,372.1 428.2,367.8 433.3,363.6 437.9,359.3 443.9,352.9 447.1,348.7 448.3,346.6 449.2,344.4 449.8,342.3 450.1,340.2 450.0,338.1 449.3,336.0 447.6,333.8 446.8,333.2 443.2,331.7 439.4,331.2 435.8,331.2 428.5,331.9 421.1,333.3 410.2,335.7 373.6,344.8 362.6,347.9 351.6,351.2 337.0,356.4 326.0,360.7 315.0,365.5 304.0,370.6 296.9,374.2 289.3,378.4 282.6,382.7 279.7,384.8 277.0,386.9 272.6,391.2 269.3,395.4 268.1,397.5 267.2,399.7 266.0,403.9 265.8,408.2 266.1,410.3 266.6,412.4 267.5,414.5 268.9,416.6 271.1,418.6 274.7,420.4Z"/>
<path fill="#7272fb" d="M281.7,420.9 285.7,421.2 289.4,421.2 293.0,421.1 300.4,420.3 307.7,419.2 315.0,417.7 329.6,414.1 344.3,409.6 354.7,406.0 362.6,403.1 371.2,399.7 381.0,395.4 394.2,389.0 405.7,382.7 415.5,376.3 421.4,372.1 426.7,367.8 431.7,363.6 436.2,359.3 442.1,352.9 445.1,348.7 446.2,346.6 447.1,344.4 447.6,342.3 447.7,340.2 447.4,338.1 446.8,336.8 446.2,336.0 443.1,333.6 439.4,332.7 435.8,332.5 432.1,332.6 424.8,333.5 417.5,334.9 395.5,340.0 366.2,347.5 355.3,350.7 344.3,354.3 333.3,358.4 322.3,362.9 311.3,367.7 302.3,372.1 294.2,376.3 287.1,380.5 280.9,384.8 278.3,386.9 275.9,389.0 272.1,393.3 269.5,397.5 268.6,399.7 267.9,401.8 267.5,403.9 267.5,408.2 267.8,410.3 268.4,412.4 269.5,414.5 271.1,416.6 274.2,418.8 278.4,420.3Z"/>
<path fill="#7070fa" d="M277.3,418.8 282.1,420.0 285.7,420.4 293.0,420.4 304.0,419.3 311.3,418.0 318.7,416.4 333.3,412.6 340.6,410.4 351.6,406.7 359.3,403.9 370.0,399.7 384.5,393.3 397.0,386.9 407.8,380.5 414.2,376.3 419.9,372.1 425.2,367.8 430.1,363.6 434.5,359.3 438.5,355.1 441.8,350.8 443.1,348.7 444.2,346.6 444.9,344.4 445.3,342.3 445.2,340.2 444.5,338.1 442.7,336.0 439.4,334.5 435.8,333.8 432.1,333.8 428.5,334.0 421.1,335.1 406.5,338.1 373.6,346.2 362.6,349.1 351.6,352.5 340.6,356.2 329.6,360.4 318.7,365.0 307.9,369.9 295.5,376.3 288.3,380.5 285.1,382.7 279.6,386.9 277.2,389.0 273.4,393.3 272.0,395.4 270.8,397.5 270.0,399.7 269.4,401.8 269.0,403.9 268.9,406.0 269.1,408.2 269.5,410.3 270.3,412.4 271.5,414.5 273.5,416.6 274.7,417.5Z"/>
<path fill="#6e6ef9" d="M281.1,418.8 285.7,419.5 289.4,419.8 293.0,419.7 300.4,419.2 311.3,417.5 318.7,416.0 326.0,414.2 340.6,409.9 358.1,403.9 373.9,397.5 387.7,391.2 399.6,384.8 409.8,378.4 418.5,372.1 423.7,367.8 428.4,363.6 434.8,357.2 438.4,352.9 439.9,350.8 441.1,348.7 442.1,346.6 442.7,344.4 443.0,342.3 442.6,340.2 441.3,338.1 439.4,336.6 437.9,336.0 435.8,335.4 432.1,335.1 428.5,335.2 421.1,336.0 410.2,338.1 373.6,346.8 362.6,349.8 351.6,353.1 340.6,356.8 329.6,361.0 318.7,365.6 307.7,370.7 296.8,376.3 289.6,380.5 286.4,382.7 280.8,386.9 278.5,389.0 276.5,391.2 273.3,395.4 272.2,397.5 271.4,399.7 270.8,401.8 270.5,403.9 270.5,406.0 270.7,408.2 271.2,410.3 272.1,412.4 273.6,414.5 274.7,415.6 276.1,416.6 278.4,417.9Z"/>
<path fill="#6d6df8" d="M286.6,418.8 293.0,419.1 296.7,418.9 300.4,418.6 307.7,417.6 318.7,415.5 333.3,411.7 347.9,407.1 362.4,401.8 377.6,395.4 390.7,389.0 401.9,382.7 411.4,376.3 419.6,369.9 424.5,365.7 429.0,361.4 434.8,355.1 437.9,350.8 439.1,348.7 439.9,346.6 440.4,344.4 440.4,342.3 439.7,340.2 437.4,338.1 435.8,337.3 432.1,336.5 428.5,336.4 424.8,336.6 417.5,337.6 410.2,339.0 395.5,342.2 377.2,346.6 358.9,351.5 347.9,354.9 340.6,357.4 333.3,360.1 322.3,364.6 311.3,369.5 304.0,373.1 294.3,378.4 287.6,382.7 284.7,384.8 279.8,389.0 277.8,391.2 276.1,393.3 274.7,395.4 273.6,397.5 272.8,399.7 272.3,401.8 272.0,403.9 272.1,406.0 272.4,408.2 273.0,410.3 274.1,412.4 275.8,414.5 278.8,416.6 282.1,417.9Z"/>
<path fill="#6b6bf7" d="M281.8,416.6 285.7,417.7 289.4,418.2 293.0,418.3 296.7,418.3 300.4,418.0 307.7,417.1 315.0,415.8 322.3,414.2 337.0,410.2 351.6,405.4 366.5,399.7 381.0,393.3 393.4,386.9 403.9,380.5 412.9,374.2 420.5,367.8 425.1,363.6 429.3,359.3 432.9,355.1 434.5,352.9 435.9,350.8 436.9,348.7 437.7,346.6 437.9,344.4 437.6,342.3 436.3,340.2 435.8,339.8 432.1,338.2 428.5,337.7 424.8,337.8 417.5,338.6 410.2,339.8 399.2,342.2 369.9,349.1 358.9,352.1 351.6,354.3 344.3,356.7 333.3,360.7 322.3,365.1 311.7,369.9 299.2,376.3 292.0,380.5 288.9,382.7 283.3,386.9 281.0,389.0 277.4,393.3 276.0,395.4 274.9,397.5 274.2,399.7 273.7,401.8 273.6,403.9 273.7,406.0 274.1,408.2 274.8,410.3 276.1,412.4 278.1,414.5Z"/>
<path fill="#6969f6" d="M285.6,416.6 289.4,417.3 293.0,417.6 296.7,417.6 304.0,417.0 315.0,415.3 326.0,412.8 340.6,408.6 355.3,403.6 370.4,397.5 384.1,391.2 395.9,384.8 405.7,378.4 414.0,372.1 421.2,365.7 425.5,361.4 429.3,357.2 432.5,352.9 433.8,350.8 434.7,348.7 435.3,346.6 435.3,344.4 434.5,342.3 432.1,340.3 428.5,339.3 424.8,339.1 421.1,339.2 413.8,340.1 406.5,341.5 377.2,348.0 358.9,352.7 347.9,356.0 340.6,358.5 326.0,364.2 317.6,367.8 308.5,372.1 296.7,378.4 290.1,382.7 287.2,384.8 284.6,386.9 280.3,391.2 278.7,393.3 277.3,395.4 276.3,397.5 275.6,399.7 275.2,401.8 275.1,403.9 275.3,406.0 275.8,408.2 276.7,410.3 278.4,412.7 280.6,414.5 282.1,415.4Z"/>
<path fill="#6767f4" d="M291.3,416.6 296.7,416.9 300.4,416.8 307.7,416.0 318.7,414.0 326.0,412.3 333.3,410.4 347.2,406.0 358.9,401.8 369.3,397.5 383.0,391.2 390.9,386.9 401.3,380.5 409.9,374.2 417.3,367.8 421.7,363.6 425.6,359.3 429.0,355.1 430.4,352.9 431.6,350.8 432.4,348.7 432.7,346.6 432.4,344.4 430.6,342.3 428.5,341.3 424.8,340.6 421.1,340.5 417.5,340.7 406.5,342.4 377.2,348.7 358.9,353.3 347.9,356.6 340.6,359.1 329.6,363.2 322.3,366.3 314.2,369.9 305.6,374.2 297.9,378.4 294.4,380.5 288.4,384.8 285.8,386.9 281.6,391.2 280.0,393.3 278.7,395.4 277.7,397.5 277.0,399.7 276.7,401.8 276.6,403.9 276.9,406.0 277.5,408.2 278.5,410.3 280.3,412.4 283.3,414.5 285.7,415.5 289.4,416.4Z"/>
<path fill="#6666f3" d="M286.3,414.5 289.4,415.4 293.0,416.0 296.7,416.2 300.4,416.1 304.0,415.8 311.3,414.9 322.3,412.8 329.6,410.9 337.0,408.9 351.6,404.0 363.0,399.7 377.5,393.3 389.7,386.9 399.9,380.5 408.4,374.2 415.6,367.8 419.9,363.6 423.7,359.3 425.4,357.2 428.3,352.9 429.3,350.8 429.9,348.7 429.9,346.6 428.9,344.4 428.5,344.0 424.8,342.3 421.1,341.9 417.5,342.0 413.8,342.3 406.5,343.4 399.2,344.7 373.6,350.3 362.6,353.0 355.3,355.0 340.6,359.7 326.0,365.3 318.7,368.4 311.0,372.1 304.0,375.6 299.1,378.4 292.5,382.7 289.6,384.8 284.8,389.0 282.9,391.2 281.3,393.3 280.0,395.4 279.1,397.5 278.4,399.7 278.2,401.8 278.2,403.9 278.5,406.0 279.3,408.2 280.5,410.3 282.1,412.0Z"/>
<path fill="#6464f1" d="M290.0,414.5 293.0,415.1 296.7,415.4 300.4,415.4 307.7,414.9 318.7,413.1 329.6,410.5 344.3,406.1 356.4,401.8 366.9,397.5 380.6,391.2 388.5,386.9 398.6,380.5 406.9,374.2 413.9,367.8 420.0,361.4 421.8,359.3 424.9,355.1 426.0,352.9 426.8,350.8 427.2,348.7 426.6,346.6 424.8,344.7 421.1,343.6 417.5,343.4 413.8,343.5 406.5,344.4 399.2,345.7 373.6,351.0 362.6,353.6 355.3,355.6 340.6,360.2 326.0,365.8 318.7,369.0 311.3,372.5 300.3,378.4 293.7,382.7 290.8,384.8 286.0,389.0 284.1,391.2 282.6,393.3 281.3,395.4 280.4,397.5 279.9,399.7 279.7,401.8 279.8,403.9 280.3,406.0 281.1,408.2 282.5,410.3 285.0,412.4Z"/>
<path fill="#6262ef" d="M295.8,414.5 300.4,414.7 304.0,414.6 311.3,413.8 322.3,411.8 333.3,409.0 344.3,405.7 355.3,401.8 365.7,397.5 379.4,391.2 387.2,386.9 390.8,384.8 397.2,380.5 402.8,376.3 410.1,369.9 416.2,363.6 421.3,357.2 422.6,355.1 423.6,352.9 424.2,350.8 424.1,348.7 422.5,346.6 421.1,345.8 417.5,345.0 413.8,344.9 410.2,345.1 399.2,346.6 388.0,348.7 369.9,352.5 358.9,355.2 351.6,357.3 337.0,362.1 322.3,368.0 309.2,374.2 304.0,377.0 298.0,380.5 292.0,384.8 289.5,386.9 285.4,391.2 283.9,393.3 282.7,395.4 281.8,397.5 281.4,399.7 281.2,401.8 281.4,403.9 282.0,406.0 283.0,408.2 284.7,410.3 287.7,412.4 289.4,413.1 293.0,414.1Z"/>
<path fill="#6161ed" d="M290.7,412.4 293.0,413.1 296.7,413.7 300.4,414.0 304.0,413.9 307.7,413.6 315.0,412.7 326.0,410.5 337.0,407.5 348.1,403.9 359.4,399.7 373.9,393.3 382.2,389.0 385.9,386.9 392.8,382.7 398.7,378.4 406.2,372.1 410.4,367.8 414.3,363.6 417.6,359.3 419.0,357.2 420.2,355.1 421.0,352.9 421.2,350.8 420.2,348.7 417.5,347.1 415.0,346.6 410.2,346.4 406.5,346.7 391.9,348.9 369.9,353.2 355.3,356.8 340.6,361.4 333.3,364.1 326.0,367.0 314.6,372.1 304.0,377.6 296.1,382.7 290.7,386.9 288.5,389.0 286.7,391.2 285.2,393.3 284.0,395.4 283.3,397.5 282.8,399.7 282.8,401.8 283.1,403.9 283.7,406.0 284.9,408.2 285.7,409.1 286.9,410.3 289.4,411.8Z"/>
<path fill="#5f5feb" d="M294.5,412.4 296.7,412.8 300.4,413.2 307.7,413.0 311.3,412.7 318.7,411.5 329.6,409.1 340.6,405.9 352.7,401.8 363.3,397.5 377.0,391.2 384.7,386.9 388.2,384.8 394.4,380.5 399.8,376.3 406.6,369.9 410.5,365.7 413.9,361.4 416.6,357.2 417.6,355.1 418.0,352.9 417.6,350.8 414.6,348.7 413.8,348.5 410.2,348.0 406.5,348.1 402.8,348.3 399.2,348.7 386.3,350.8 366.2,354.8 351.6,358.5 344.3,360.8 337.0,363.3 325.4,367.8 318.7,370.8 311.6,374.2 304.0,378.3 300.4,380.5 294.4,384.8 289.8,389.0 288.0,391.2 286.5,393.3 285.4,395.4 284.7,397.5 284.3,399.7 284.3,401.8 284.7,403.9 285.5,406.0 287.0,408.2 289.3,410.3 293.0,412.0Z"/>
<path fill="#5e5ee9" d="M300.6,412.4 307.7,412.4 315.0,411.6 322.3,410.3 333.3,407.6 345.4,403.9 356.9,399.7 367.0,395.4 375.7,391.2 383.4,386.9 390.0,382.7 395.7,378.4 402.8,372.1 408.5,365.7 410.2,363.6 413.0,359.3 414.1,357.2 414.6,355.1 414.5,352.9 413.8,351.9 412.5,350.8 410.2,350.0 406.5,349.7 402.8,349.7 391.9,350.9 379.4,352.9 366.2,355.5 358.9,357.2 351.6,359.1 344.3,361.3 337.0,363.8 329.6,366.6 322.3,369.7 311.3,375.0 305.1,378.4 301.6,380.5 295.7,384.8 293.2,386.9 291.0,389.0 289.3,391.2 287.8,393.3 286.8,395.4 286.1,397.5 285.8,399.7 285.9,401.8 286.5,403.9 287.4,406.0 289.1,408.2 292.1,410.3 293.0,410.7 296.7,411.8Z"/>
<path fill="#5c5ce6" d="M295.2,410.3 296.7,410.8 300.4,411.5 304.0,411.7 307.7,411.7 315.0,411.0 318.7,410.4 326.0,409.0 337.0,406.1 347.9,402.5 360.9,397.5 370.3,393.3 378.4,389.0 385.5,384.8 391.5,380.5 394.2,378.4 398.9,374.2 403.0,369.9 406.5,365.7 408.0,363.6 410.4,359.3 411.1,357.2 411.2,355.1 409.9,352.9 406.5,351.7 402.8,351.3 399.2,351.4 391.9,352.1 384.5,353.0 373.6,354.8 358.9,357.9 351.6,359.8 344.3,362.0 333.3,365.8 326.0,368.7 318.4,372.1 307.7,377.6 302.8,380.5 299.7,382.7 296.9,384.8 292.3,389.0 290.6,391.2 289.2,393.3 288.2,395.4 287.6,397.5 287.4,399.7 287.6,401.8 288.2,403.9 289.4,406.0 291.4,408.2 293.0,409.3Z"/>
<path fill="#5b5be4" d="M299.1,410.3 304.0,410.9 311.3,410.8 318.7,409.9 329.6,407.6 342.5,403.9 354.4,399.7 364.5,395.4 373.2,391.2 380.8,386.9 387.2,382.7 392.7,378.4 395.1,376.3 399.2,372.1 402.8,367.8 405.6,363.6 406.8,361.4 407.5,359.3 407.8,357.2 406.9,355.1 406.5,354.8 402.8,353.3 399.2,352.9 395.5,353.0 388.2,353.7 377.5,355.1 362.6,357.8 355.3,359.5 347.9,361.5 337.0,365.0 326.0,369.3 315.0,374.3 307.7,378.3 304.0,380.5 298.1,384.8 295.7,386.9 293.6,389.0 291.9,391.2 290.6,393.3 289.6,395.4 289.1,397.5 289.0,399.7 289.3,401.8 290.1,403.9 291.4,406.0 293.8,408.2 296.7,409.6Z"/>
<path fill="#5959e1" d="M296.5,408.2 300.4,409.5 304.0,410.1 307.7,410.3 315.0,409.8 326.0,407.9 337.0,405.1 347.3,401.8 358.3,397.5 367.7,393.3 375.8,389.0 382.7,384.8 388.6,380.5 391.1,378.4 395.5,374.2 399.1,369.9 402.0,365.7 403.1,363.6 403.9,361.4 404.2,359.3 403.6,357.2 402.8,356.5 399.6,355.1 395.5,354.7 391.9,354.7 380.9,355.6 366.2,357.8 355.3,360.2 343.2,363.6 337.0,365.6 329.6,368.4 318.7,373.2 308.7,378.4 302.2,382.7 296.9,386.9 294.9,389.0 293.2,391.2 292.0,393.3 291.1,395.4 290.7,397.5 290.6,399.7 291.1,401.8 292.0,403.9 293.6,406.0Z"/>
<path fill="#5858df" d="M299.8,408.2 304.0,409.1 307.7,409.4 311.3,409.4 318.7,408.7 326.0,407.4 337.0,404.6 345.8,401.8 357.0,397.5 366.5,393.3 374.5,389.0 381.3,384.8 387.0,380.5 391.7,376.3 395.5,372.1 398.4,367.8 399.5,365.7 400.4,363.6 400.7,361.4 400.3,359.3 399.2,358.1 397.4,357.2 395.5,356.7 391.9,356.3 388.2,356.3 377.2,357.1 362.6,359.3 351.6,361.8 340.6,365.0 329.6,369.0 322.4,372.1 317.9,374.2 313.8,376.3 307.7,379.8 303.4,382.7 300.6,384.8 298.3,386.9 296.2,389.0 294.6,391.2 293.4,393.3 292.6,395.4 292.2,397.5 292.3,399.7 292.8,401.8 294.0,403.9 295.9,406.0Z"/>
<path fill="#5656db" d="M304.0,408.2 307.7,408.6 311.3,408.7 315.0,408.5 322.3,407.5 329.6,406.0 337.6,403.9 347.9,400.5 355.7,397.5 365.1,393.3 369.3,391.2 376.7,386.9 382.8,382.7 387.8,378.4 391.8,374.2 394.8,369.9 396.0,367.8 396.8,365.7 397.3,363.6 396.9,361.4 395.5,359.7 394.9,359.3 391.9,358.4 388.2,358.0 384.5,357.9 377.2,358.3 366.2,359.5 355.3,361.6 347.9,363.4 340.6,365.6 329.6,369.6 318.7,374.5 311.3,378.4 307.8,380.5 301.9,384.8 299.6,386.9 297.6,389.0 296.0,391.2 294.9,393.3 294.1,395.4 293.9,397.5 294.0,399.7 294.7,401.8 296.1,403.9 298.5,406.0 300.4,407.0Z"/>
<path fill="#5555d9" d="M301.4,406.0 304.0,407.0 307.7,407.7 311.3,407.9 318.7,407.4 326.0,406.2 335.7,403.9 342.7,401.8 348.8,399.7 359.3,395.4 363.8,393.3 371.8,389.0 378.4,384.8 383.9,380.5 388.1,376.3 391.3,372.1 392.5,369.9 393.4,367.8 393.9,365.7 393.7,363.6 392.2,361.4 391.9,361.2 388.2,359.9 384.5,359.5 377.2,359.5 366.2,360.5 355.3,362.4 344.3,365.2 333.3,368.9 322.3,373.4 316.5,376.3 312.6,378.4 306.0,382.7 303.3,384.8 300.9,386.9 299.0,389.0 297.4,391.2 296.3,393.3 295.7,395.4 295.5,397.5 295.8,399.7 296.7,401.8 298.3,403.9 300.4,405.5Z"/>
<path fill="#5454d5" d="M305.0,406.0 307.7,406.6 311.3,407.0 315.0,407.0 322.3,406.3 329.6,404.9 333.6,403.9 340.6,401.9 347.3,399.7 352.8,397.5 362.4,393.3 366.6,391.2 373.8,386.9 379.7,382.7 384.4,378.4 387.8,374.2 389.1,372.1 390.0,369.9 390.6,367.8 390.5,365.7 389.3,363.6 388.2,362.7 384.5,361.4 380.9,361.0 377.2,360.8 373.6,360.9 366.2,361.5 355.3,363.2 344.3,365.9 333.3,369.5 322.1,374.2 314.0,378.4 307.3,382.7 304.6,384.8 302.3,386.9 300.4,389.0 298.9,391.2 297.9,393.3 297.3,395.4 297.2,397.5 297.7,399.7 298.8,401.8 300.4,403.6 304.0,405.7Z"/>
<path fill="#5252d1" d="M310.7,406.0 315.0,406.2 318.7,406.0 322.3,405.6 329.6,404.3 337.0,402.4 344.3,400.1 351.3,397.5 356.4,395.4 365.2,391.2 368.9,389.0 375.4,384.8 380.5,380.5 382.5,378.4 384.3,376.3 385.7,374.2 386.7,372.1 387.3,369.9 387.4,367.8 386.6,365.7 384.5,364.1 383.5,363.6 380.9,362.9 377.2,362.4 369.9,362.3 366.2,362.6 358.9,363.4 347.9,365.6 340.2,367.8 329.6,371.6 323.7,374.2 318.7,376.6 311.8,380.5 306.0,384.8 303.7,386.9 301.9,389.0 300.4,391.2 299.5,393.3 299.0,395.4 299.1,397.5 299.7,399.7 301.0,401.8 304.0,404.2 307.7,405.5Z"/>
<path fill="#5151ce" d="M306.8,403.9 311.3,405.0 315.0,405.3 318.7,405.2 322.3,404.9 329.6,403.6 337.0,401.8 344.3,399.5 354.9,395.4 359.5,393.3 363.7,391.2 370.8,386.9 373.8,384.8 378.7,380.5 380.7,378.4 382.2,376.3 383.4,374.2 384.2,372.1 384.4,369.9 383.8,367.8 381.6,365.7 377.2,364.2 373.6,363.7 369.9,363.6 362.6,364.0 351.6,365.6 344.3,367.4 336.0,369.9 330.3,372.1 325.3,374.2 316.8,378.4 310.1,382.7 307.4,384.8 305.2,386.9 303.3,389.0 302.0,391.2 301.1,393.3 300.8,395.4 300.9,397.5 301.8,399.7 303.4,401.8Z"/>
<path fill="#5050ca" d="M311.1,403.9 315.0,404.4 318.7,404.4 322.3,404.1 326.0,403.6 333.3,402.1 340.6,400.1 347.9,397.6 358.0,393.3 362.2,391.2 369.2,386.9 372.2,384.8 374.7,382.7 376.9,380.5 378.6,378.4 380.0,376.3 381.0,374.2 381.4,372.1 381.1,369.9 379.5,367.8 377.2,366.5 374.5,365.7 369.9,365.1 366.2,365.0 358.9,365.4 355.3,365.9 347.9,367.3 340.6,369.2 332.2,372.1 322.4,376.3 315.0,380.4 311.3,382.9 308.9,384.8 306.7,386.9 304.9,389.0 303.6,391.2 302.9,393.3 302.6,395.4 303.0,397.5 303.9,399.7 306.1,401.8 307.7,402.7Z"/>
<path fill="#4f4fc7" d="M309.3,401.8 311.3,402.6 315.0,403.3 318.7,403.5 322.3,403.3 326.0,402.9 333.3,401.5 339.9,399.7 346.2,397.5 351.7,395.4 356.4,393.3 364.3,389.0 370.5,384.8 372.9,382.7 374.9,380.5 376.5,378.4 377.7,376.3 378.3,374.2 378.2,372.1 377.2,369.9 373.6,367.7 369.9,366.8 366.2,366.4 362.6,366.4 355.3,366.9 347.9,368.2 340.6,370.0 334.4,372.1 328.9,374.2 320.0,378.4 315.0,381.4 310.5,384.8 308.3,386.9 306.6,389.0 305.4,391.2 304.7,393.3 304.6,395.4 305.1,397.5 306.4,399.7 307.7,400.8Z"/>
<path fill="#4e4ec3" d="M313.6,401.8 315.0,402.1 318.7,402.5 322.3,402.4 326.0,402.1 329.6,401.5 337.0,399.8 344.3,397.6 349.8,395.4 354.7,393.3 358.9,391.2 362.6,389.0 365.9,386.9 368.6,384.8 371.0,382.7 372.9,380.5 374.3,378.4 375.1,376.3 375.4,374.2 374.7,372.1 373.6,370.8 372.4,369.9 369.9,368.9 366.2,368.1 362.6,367.7 358.9,367.7 355.3,368.0 347.9,369.1 340.6,370.9 333.3,373.3 325.9,376.3 318.7,380.1 314.8,382.7 312.1,384.8 310.0,386.9 308.3,389.0 307.2,391.2 306.6,393.3 306.7,395.4 307.4,397.5 309.2,399.7 311.3,401.0Z"/>
<path fill="#4d4dbf" d="M312.5,399.7 315.0,400.7 318.7,401.4 322.3,401.5 326.0,401.2 333.3,400.0 337.0,399.0 342.0,397.5 348.0,395.4 352.8,393.3 357.1,391.2 360.8,389.0 364.0,386.9 366.7,384.8 368.9,382.7 370.7,380.5 371.8,378.4 372.3,376.3 372.0,374.2 370.5,372.1 369.9,371.6 366.2,370.0 362.6,369.4 358.9,369.2 355.3,369.2 347.9,370.1 340.6,371.8 333.3,374.1 328.0,376.3 322.3,379.1 316.6,382.7 313.9,384.8 311.7,386.9 310.1,389.0 309.1,391.2 308.7,393.3 308.9,395.4 310.0,397.5 311.3,398.9Z"/>
<path fill="#4c4cbb" d="M317.0,399.7 318.7,400.1 322.3,400.4 326.0,400.2 330.6,399.7 337.0,398.2 340.6,397.2 345.7,395.4 350.9,393.3 355.3,391.2 359.0,389.0 362.1,386.9 364.7,384.8 366.8,382.7 368.2,380.5 369.1,378.4 369.2,376.3 368.2,374.2 366.2,372.6 365.1,372.1 362.6,371.3 358.9,370.7 355.3,370.6 351.6,370.8 344.3,371.9 337.0,373.9 329.6,376.6 325.6,378.4 322.3,380.2 318.4,382.7 315.0,385.5 313.6,386.9 312.1,389.0 311.1,391.2 310.9,393.3 311.3,395.4 312.9,397.5 315.0,398.9Z"/>
<path fill="#4b4bb7" d="M316.6,397.5 318.7,398.4 322.3,399.1 326.0,399.1 329.6,398.8 337.0,397.4 343.3,395.4 348.7,393.3 353.1,391.2 356.8,389.0 359.9,386.9 362.5,384.8 364.3,382.7 365.6,380.5 366.2,378.4 365.6,376.3 363.4,374.2 362.6,373.8 358.9,372.6 355.3,372.2 351.6,372.2 347.9,372.5 340.6,373.9 333.3,376.2 329.6,377.7 323.9,380.5 320.5,382.7 317.8,384.8 315.7,386.9 314.2,389.0 313.5,391.2 313.4,393.3 314.2,395.4 315.0,396.3Z"/>
<path fill="#4a4ab2" d="M322.1,397.5 326.0,397.9 329.6,397.7 333.3,397.1 340.6,395.3 346.1,393.3 350.8,391.2 355.3,388.6 357.6,386.9 360.0,384.8 361.7,382.7 362.7,380.5 362.6,378.4 361.1,376.3 358.9,375.1 355.3,374.1 351.6,373.8 345.8,374.2 340.6,375.2 336.4,376.3 329.6,378.9 326.2,380.5 322.3,383.0 320.1,384.8 318.7,386.2 318.0,386.9 316.6,389.0 316.0,391.2 316.2,393.3 317.6,395.4 318.7,396.2Z"/>
<path fill="#4949ad" d="M322.2,395.4 326.0,396.3 329.6,396.3 333.3,395.9 337.0,395.2 344.3,392.8 348.1,391.2 352.0,389.0 355.0,386.9 357.2,384.8 358.7,382.7 359.1,380.5 358.9,379.9 358.2,378.4 355.3,376.6 351.6,375.8 347.9,375.6 344.3,375.9 340.6,376.5 333.3,378.7 329.2,380.5 325.4,382.7 322.6,384.8 320.6,386.9 319.3,389.0 318.9,391.2 319.6,393.3Z"/>
<path fill="#4848a9" d="M324.3,393.3 326.0,394.0 329.6,394.6 333.3,394.4 338.7,393.3 344.7,391.2 348.8,389.0 351.6,387.1 353.8,384.8 354.9,382.7 354.5,380.5 351.6,378.4 347.9,377.8 344.3,377.8 340.6,378.3 337.0,379.2 333.0,380.5 328.8,382.7 326.0,384.6 323.7,386.9 322.5,389.0 322.5,391.2Z"/>
<path fill="#4747a4" d="M328.2,391.2 329.6,391.8 333.3,392.2 337.0,391.8 340.6,390.7 344.6,389.0 347.8,386.9 349.4,384.8 349.5,382.7 347.9,381.3 345.5,380.5 344.3,380.4 340.6,380.6 337.0,381.5 333.5,382.7 329.9,384.8 327.9,386.9 327.0,389.0Z"/>
</g>
<g id="pts" fill="#4081bd" stroke="#fff" stroke-width="0.8">
<circle cx="356.5" cy="353.7" r="4.1"/>
<circle cx="392.7" cy="343.7" r="4.1"/>
<circle cx="443.0" cy="336.0" r="4.1"/>
<circle cx="408.6" cy="383.5" r="4.1"/>
<circle cx="252.0" cy="400.2" r="4.1"/>
<circle cx="473.0" cy="334.3" r="4.1"/>
<circle cx="337.2" cy="402.2" r="4.1"/>
<circle cx="409.2" cy="382.0" r="4.1"/>
<circle cx="281.3" cy="394.0" r="4.1"/>
<circle cx="300.9" cy="416.5" r="4.1"/>
<circle cx="346.2" cy="396.2" r="4.1"/>
<circle cx="330.6" cy="381.0" r="4.1"/>
<circle cx="301.5" cy="390.0" r="4.1"/>
<circle cx="337.0" cy="403.8" r="4.1"/>
<circle cx="298.0" cy="384.8" r="4.1"/>
<circle cx="337.1" cy="375.4" r="4.1"/>
<circle cx="412.3" cy="339.7" r="4.1"/>
<circle cx="391.7" cy="364.9" r="4.1"/>
<circle cx="456.9" cy="312.1" r="4.1"/>
<circle cx="259.9" cy="428.8" r="4.1"/>
<circle cx="347.2" cy="397.4" r="4.1"/>
<circle cx="442.1" cy="336.0" r="4.1"/>
<circle cx="316.3" cy="403.8" r="4.1"/>
<circle cx="401.7" cy="356.0" r="4.1"/>
<circle cx="337.2" cy="398.7" r="4.1"/>
<circle cx="343.9" cy="347.4" r="4.1"/>
<circle cx="335.9" cy="386.9" r="4.1"/>
<circle cx="319.8" cy="392.8" r="4.1"/>
<circle cx="479.8" cy="309.3" r="4.1"/>
<circle cx="268.7" cy="414.7" r="4.1"/>
<circle cx="480.2" cy="307.8" r="4.1"/>
<circle cx="105.3" cy="477.4" r="4.1"/>
<circle cx="240.6" cy="433.6" r="4.1"/>
<circle cx="105.3" cy="432.8" r="4.1"/>
<circle cx="117.8" cy="431.1" r="4.1"/>
<circle cx="226.0" cy="431.1" r="4.1"/>
<circle cx="290.1" cy="431.1" r="4.1"/>
<circle cx="244.7" cy="426.3" r="4.1"/>
<circle cx="244.7" cy="423.4" r="4.1"/>
<circle cx="281.8" cy="383.9" r="4.1"/>
<circle cx="368.1" cy="357.2" r="4.1"/>
<circle cx="467.6" cy="356.5" r="4.1"/>
<circle cx="356.5" cy="356.1" r="4.1"/>
<circle cx="439.3" cy="335.8" r="4.1"/>
<circle cx="534.0" cy="325.5" r="4.1"/>
<circle cx="491.7" cy="316.4" r="4.1"/>
<circle cx="504.8" cy="311.7" r="4.1"/>
<circle cx="409.6" cy="303.7" r="4.1"/>
<circle cx="475.0" cy="303.2" r="4.1"/>
<circle cx="428.3" cy="300.1" r="4.1"/>
<circle cx="527.2" cy="275.2" r="4.1"/>
<circle cx="538.1" cy="244.1" r="4.1"/>
<circle cx="114.6" cy="418.2" r="4.1"/>
<circle cx="108.6" cy="433.0" r="4.1"/>
<circle cx="121.5" cy="433.6" r="4.1"/>
<circle cx="114.6" cy="470.8" r="4.1"/>
<circle cx="109.1" cy="476.4" r="4.1"/>
<circle cx="114.6" cy="484.2" r="4.1"/>
<circle cx="133.3" cy="473.7" r="4.1"/>
<circle cx="161.2" cy="459.4" r="4.1"/>
<circle cx="179.7" cy="456.9" r="4.1"/>
<circle cx="198.2" cy="460.9" r="4.1"/>
<circle cx="188.9" cy="431.4" r="4.1"/>
<circle cx="205.5" cy="433.9" r="4.1"/>
<circle cx="229.3" cy="434.2" r="4.1"/>
<circle cx="244.7" cy="434.6" r="4.1"/>
<circle cx="244.7" cy="420.0" r="4.1"/>
<circle cx="253.9" cy="413.1" r="4.1"/>
<circle cx="252.4" cy="451.4" r="4.1"/>
<circle cx="259.3" cy="429.6" r="4.1"/>
<circle cx="214.3" cy="408.5" r="4.1"/>
<circle cx="220.6" cy="403.2" r="4.1"/>
<circle cx="244.7" cy="402.6" r="4.1"/>
<circle cx="253.9" cy="401.5" r="4.1"/>
<circle cx="241.0" cy="304.8" r="4.1"/>
<circle cx="170.2" cy="367.2" r="4.1"/>
<circle cx="244.7" cy="347.9" r="4.1"/>
<circle cx="240.0" cy="353.6" r="4.1"/>
<circle cx="245.0" cy="353.7" r="4.1"/>
<circle cx="227.9" cy="368.3" r="4.1"/>
<circle cx="246.4" cy="365.0" r="4.1"/>
<circle cx="255.8" cy="363.5" r="4.1"/>
<circle cx="253.1" cy="372.0" r="4.1"/>
<circle cx="257.1" cy="376.2" r="4.1"/>
<circle cx="243.5" cy="378.5" r="4.1"/>
<circle cx="252.7" cy="382.0" r="4.1"/>
<circle cx="247.6" cy="387.2" r="4.1"/>
<circle cx="252.0" cy="386.4" r="4.1"/>
<circle cx="214.7" cy="398.0" r="4.1"/>
<circle cx="259.7" cy="396.4" r="4.1"/>
<circle cx="335.6" cy="277.4" r="4.1"/>
<circle cx="358.3" cy="268.7" r="4.1"/>
<circle cx="359.5" cy="299.3" r="4.1"/>
<circle cx="321.0" cy="313.9" r="4.1"/>
<circle cx="326.4" cy="320.1" r="4.1"/>
<circle cx="345.0" cy="311.0" r="4.1"/>
<circle cx="337.4" cy="315.0" r="4.1"/>
<circle cx="339.6" cy="318.3" r="4.1"/>
<circle cx="336.9" cy="321.7" r="4.1"/>
<circle cx="337.4" cy="325.6" r="4.1"/>
<circle cx="341.0" cy="328.6" r="4.1"/>
<circle cx="348.8" cy="327.3" r="4.1"/>
<circle cx="434.5" cy="244.6" r="4.1"/>
<circle cx="421.3" cy="253.1" r="4.1"/>
<circle cx="380.4" cy="261.1" r="4.1"/>
<circle cx="389.6" cy="261.5" r="4.1"/>
<circle cx="384.1" cy="268.2" r="4.1"/>
<circle cx="398.7" cy="263.3" r="4.1"/>
<circle cx="404.5" cy="260.2" r="4.1"/>
<circle cx="455.2" cy="266.2" r="4.1"/>
<circle cx="445.4" cy="283.6" r="4.1"/>
<circle cx="456.4" cy="285.5" r="4.1"/>
<circle cx="376.5" cy="290.1" r="4.1"/>
<circle cx="380.4" cy="304.2" r="4.1"/>
<circle cx="411.8" cy="293.8" r="4.1"/>
<circle cx="411.8" cy="302.6" r="4.1"/>
<circle cx="417.4" cy="305.9" r="4.1"/>
<circle cx="408.2" cy="315.0" r="4.1"/>
<circle cx="419.4" cy="315.4" r="4.1"/>
<circle cx="384.1" cy="319.3" r="4.1"/>
<circle cx="430.8" cy="296.9" r="4.1"/>
<circle cx="430.1" cy="303.7" r="4.1"/>
<circle cx="432.6" cy="306.2" r="4.1"/>
<circle cx="435.9" cy="312.5" r="4.1"/>
<circle cx="449.1" cy="311.0" r="4.1"/>
<circle cx="456.4" cy="312.5" r="4.1"/>
<circle cx="459.5" cy="319.3" r="4.1"/>
<circle cx="443.5" cy="323.4" r="4.1"/>
<circle cx="448.3" cy="322.0" r="4.1"/>
<circle cx="451.2" cy="324.9" r="4.1"/>
<circle cx="439.8" cy="328.6" r="4.1"/>
<circle cx="375.0" cy="325.6" r="4.1"/>
<circle cx="376.5" cy="329.0" r="4.1"/>
<circle cx="411.9" cy="332.0" r="4.1"/>
<circle cx="467.7" cy="235.0" r="4.1"/>
<circle cx="523.5" cy="231.4" r="4.1"/>
<circle cx="540.3" cy="247.3" r="4.1"/>
<circle cx="523.5" cy="255.9" r="4.1"/>
<circle cx="553.1" cy="263.1" r="4.1"/>
<circle cx="554.9" cy="278.4" r="4.1"/>
<circle cx="477.1" cy="267.2" r="4.1"/>
<circle cx="486.3" cy="271.4" r="4.1"/>
<circle cx="481.2" cy="275.8" r="4.1"/>
<circle cx="502.8" cy="270.1" r="4.1"/>
<circle cx="504.8" cy="273.7" r="4.1"/>
<circle cx="527.2" cy="272.3" r="4.1"/>
<circle cx="475.0" cy="299.6" r="4.1"/>
<circle cx="480.4" cy="308.8" r="4.1"/>
<circle cx="498.2" cy="302.5" r="4.1"/>
<circle cx="504.8" cy="299.9" r="4.1"/>
<circle cx="504.8" cy="307.3" r="4.1"/>
<circle cx="491.7" cy="311.7" r="4.1"/>
<circle cx="523.5" cy="297.8" r="4.1"/>
<circle cx="530.8" cy="307.3" r="4.1"/>
<circle cx="542.0" cy="296.2" r="4.1"/>
<circle cx="542.0" cy="311.7" r="4.1"/>
<circle cx="517.7" cy="322.0" r="4.1"/>
<circle cx="575.6" cy="232.0" r="4.1"/>
<circle cx="592.1" cy="255.5" r="4.1"/>
<circle cx="616.2" cy="256.9" r="4.1"/>
<circle cx="573.6" cy="271.8" r="4.1"/>
<circle cx="616.2" cy="272.3" r="4.1"/>
<circle cx="592.1" cy="283.5" r="4.1"/>
<circle cx="614.5" cy="283.2" r="4.1"/>
<circle cx="597.7" cy="292.6" r="4.1"/>
<circle cx="569.8" cy="298.8" r="4.1"/>
<circle cx="581.2" cy="305.7" r="4.1"/>
<circle cx="534.5" cy="323.6" r="4.1"/>
<circle cx="539.3" cy="325.5" r="4.1"/>
<circle cx="549.3" cy="323.9" r="4.1"/>
<circle cx="538.4" cy="333.4" r="4.1"/>
<circle cx="491.7" cy="329.1" r="4.1"/>
<circle cx="504.8" cy="330.5" r="4.1"/>
<circle cx="507.4" cy="339.7" r="4.1"/>
<circle cx="473.1" cy="334.6" r="4.1"/>
<circle cx="480.4" cy="335.8" r="4.1"/>
<circle cx="486.3" cy="338.7" r="4.1"/>
<circle cx="468.0" cy="340.4" r="4.1"/>
<circle cx="484.1" cy="345.5" r="4.1"/>
<circle cx="491.7" cy="348.2" r="4.1"/>
<circle cx="504.8" cy="355.0" r="4.1"/>
<circle cx="467.6" cy="352.8" r="4.1"/>
<circle cx="478.7" cy="354.6" r="4.1"/>
<circle cx="462.2" cy="359.4" r="4.1"/>
<circle cx="477.1" cy="362.0" r="4.1"/>
<circle cx="477.1" cy="378.1" r="4.1"/>
<circle cx="460.0" cy="389.8" r="4.1"/>
<circle cx="554.9" cy="354.6" r="4.1"/>
<circle cx="281.8" cy="344.2" r="4.1"/>
<circle cx="294.7" cy="343.0" r="4.1"/>
<circle cx="300.6" cy="350.5" r="4.1"/>
<circle cx="315.5" cy="353.5" r="4.1"/>
<circle cx="299.9" cy="362.9" r="4.1"/>
<circle cx="300.6" cy="368.8" r="4.1"/>
<circle cx="266.6" cy="369.3" r="4.1"/>
<circle cx="281.8" cy="373.9" r="4.1"/>
<circle cx="303.9" cy="376.7" r="4.1"/>
<circle cx="271.2" cy="379.6" r="4.1"/>
<circle cx="263.1" cy="381.5" r="4.1"/>
<circle cx="281.8" cy="381.0" r="4.1"/>
<circle cx="289.1" cy="378.5" r="4.1"/>
<circle cx="285.7" cy="377.4" r="4.1"/>
<circle cx="267.0" cy="391.5" r="4.1"/>
<circle cx="261.2" cy="396.8" r="4.1"/>
<circle cx="269.6" cy="398.9" r="4.1"/>
<circle cx="269.4" cy="405.6" r="4.1"/>
<circle cx="281.6" cy="392.6" r="4.1"/>
<circle cx="291.5" cy="393.1" r="4.1"/>
<circle cx="298.1" cy="384.7" r="4.1"/>
<circle cx="301.7" cy="386.9" r="4.1"/>
<circle cx="298.8" cy="389.8" r="4.1"/>
<circle cx="302.4" cy="390.5" r="4.1"/>
<circle cx="298.8" cy="394.9" r="4.1"/>
<circle cx="303.2" cy="395.7" r="4.1"/>
<circle cx="283.6" cy="408.3" r="4.1"/>
<circle cx="293.0" cy="409.2" r="4.1"/>
<circle cx="300.4" cy="406.0" r="4.1"/>
<circle cx="305.0" cy="408.0" r="4.1"/>
<circle cx="268.5" cy="414.1" r="4.1"/>
<circle cx="288.8" cy="413.1" r="4.1"/>
<circle cx="300.4" cy="416.0" r="4.1"/>
<circle cx="255.0" cy="412.3" r="4.1"/>
<circle cx="333.8" cy="352.8" r="4.1"/>
<circle cx="337.1" cy="350.9" r="4.1"/>
<circle cx="343.7" cy="346.9" r="4.1"/>
<circle cx="337.8" cy="340.3" r="4.1"/>
<circle cx="348.5" cy="341.2" r="4.1"/>
<circle cx="351.7" cy="355.3" r="4.1"/>
<circle cx="354.6" cy="353.9" r="4.1"/>
<circle cx="337.1" cy="362.6" r="4.1"/>
<circle cx="340.8" cy="364.1" r="4.1"/>
<circle cx="347.0" cy="365.5" r="4.1"/>
<circle cx="348.8" cy="369.6" r="4.1"/>
<circle cx="343.0" cy="369.2" r="4.1"/>
<circle cx="334.2" cy="368.5" r="4.1"/>
<circle cx="337.1" cy="371.4" r="4.1"/>
<circle cx="329.1" cy="371.4" r="4.1"/>
<circle cx="324.3" cy="368.1" r="4.1"/>
<circle cx="325.4" cy="372.1" r="4.1"/>
<circle cx="315.9" cy="374.3" r="4.1"/>
<circle cx="318.1" cy="377.2" r="4.1"/>
<circle cx="324.0" cy="376.5" r="4.1"/>
<circle cx="330.5" cy="376.5" r="4.1"/>
<circle cx="337.1" cy="375.8" r="4.1"/>
<circle cx="343.0" cy="379.4" r="4.1"/>
<circle cx="337.1" cy="380.9" r="4.1"/>
<circle cx="330.5" cy="380.9" r="4.1"/>
<circle cx="324.7" cy="381.6" r="4.1"/>
<circle cx="318.1" cy="380.9" r="4.1"/>
<circle cx="313.0" cy="383.1" r="4.1"/>
<circle cx="307.9" cy="381.6" r="4.1"/>
<circle cx="318.9" cy="387.0" r="4.1"/>
<circle cx="327.6" cy="385.3" r="4.1"/>
<circle cx="337.1" cy="386.7" r="4.1"/>
<circle cx="329.8" cy="389.3" r="4.1"/>
<circle cx="354.6" cy="372.1" r="4.1"/>
<circle cx="354.6" cy="383.8" r="4.1"/>
<circle cx="356.5" cy="353.9" r="4.1"/>
<circle cx="369.2" cy="347.4" r="4.1"/>
<circle cx="371.1" cy="353.9" r="4.1"/>
<circle cx="378.7" cy="353.9" r="4.1"/>
<circle cx="380.0" cy="343.1" r="4.1"/>
<circle cx="383.6" cy="340.0" r="4.1"/>
<circle cx="389.2" cy="342.2" r="4.1"/>
<circle cx="393.2" cy="343.9" r="4.1"/>
<circle cx="388.9" cy="349.1" r="4.1"/>
<circle cx="393.3" cy="354.2" r="4.1"/>
<circle cx="402.2" cy="344.8" r="4.1"/>
<circle cx="405.7" cy="344.5" r="4.1"/>
<circle cx="400.3" cy="353.9" r="4.1"/>
<circle cx="402.4" cy="356.8" r="4.1"/>
<circle cx="404.6" cy="357.5" r="4.1"/>
<circle cx="393.3" cy="362.6" r="4.1"/>
<circle cx="391.5" cy="365.5" r="4.1"/>
<circle cx="380.2" cy="366.3" r="4.1"/>
<circle cx="365.6" cy="368.8" r="4.1"/>
<circle cx="365.6" cy="371.4" r="4.1"/>
<circle cx="385.7" cy="371.8" r="4.1"/>
<circle cx="382.0" cy="374.3" r="4.1"/>
<circle cx="379.8" cy="376.5" r="4.1"/>
<circle cx="384.2" cy="378.0" r="4.1"/>
<circle cx="356.5" cy="371.4" r="4.1"/>
<circle cx="357.9" cy="375.8" r="4.1"/>
<circle cx="357.2" cy="380.9" r="4.1"/>
<circle cx="357.2" cy="385.3" r="4.1"/>
<circle cx="368.5" cy="381.6" r="4.1"/>
<circle cx="374.7" cy="382.0" r="4.1"/>
<circle cx="369.0" cy="387.8" r="4.1"/>
<circle cx="380.5" cy="387.3" r="4.1"/>
<circle cx="375.8" cy="389.3" r="4.1"/>
<circle cx="400.3" cy="379.8" r="4.1"/>
<circle cx="405.1" cy="377.9" r="4.1"/>
<circle cx="391.5" cy="388.2" r="4.1"/>
<circle cx="387.8" cy="389.6" r="4.1"/>
<circle cx="401.7" cy="388.9" r="4.1"/>
<circle cx="411.9" cy="339.1" r="4.1"/>
<circle cx="417.4" cy="339.1" r="4.1"/>
<circle cx="425.1" cy="337.3" r="4.1"/>
<circle cx="423.2" cy="339.5" r="4.1"/>
<circle cx="426.2" cy="342.4" r="4.1"/>
<circle cx="423.2" cy="344.6" r="4.1"/>
<circle cx="430.5" cy="346.8" r="4.1"/>
<circle cx="427.6" cy="347.5" r="4.1"/>
<circle cx="417.0" cy="351.2" r="4.1"/>
<circle cx="423.2" cy="352.6" r="4.1"/>
<circle cx="426.2" cy="353.4" r="4.1"/>
<circle cx="430.5" cy="353.4" r="4.1"/>
<circle cx="406.5" cy="357.0" r="4.1"/>
<circle cx="416.3" cy="358.8" r="4.1"/>
<circle cx="411.6" cy="362.1" r="4.1"/>
<circle cx="429.8" cy="359.2" r="4.1"/>
<circle cx="424.0" cy="363.6" r="4.1"/>
<circle cx="421.8" cy="365.8" r="4.1"/>
<circle cx="432.7" cy="365.8" r="4.1"/>
<circle cx="420.8" cy="373.1" r="4.1"/>
<circle cx="430.2" cy="372.0" r="4.1"/>
<circle cx="437.8" cy="372.9" r="4.1"/>
<circle cx="443.0" cy="375.2" r="4.1"/>
<circle cx="425.0" cy="379.3" r="4.1"/>
<circle cx="406.5" cy="376.7" r="4.1"/>
<circle cx="443.0" cy="336.2" r="4.1"/>
<circle cx="443.7" cy="347.9" r="4.1"/>
<circle cx="443.0" cy="351.2" r="4.1"/>
<circle cx="440.8" cy="352.6" r="4.1"/>
<circle cx="454.6" cy="344.6" r="4.1"/>
<circle cx="454.6" cy="351.2" r="4.1"/>
<circle cx="313.8" cy="394.5" r="4.1"/>
<circle cx="318.9" cy="393.0" r="4.1"/>
<circle cx="324.0" cy="395.9" r="4.1"/>
<circle cx="326.9" cy="397.8" r="4.1"/>
<circle cx="331.3" cy="395.9" r="4.1"/>
<circle cx="337.1" cy="390.0" r="4.1"/>
<circle cx="337.1" cy="393.0" r="4.1"/>
<circle cx="337.1" cy="396.0" r="4.1"/>
<circle cx="337.1" cy="399.0" r="4.1"/>
<circle cx="337.1" cy="402.0" r="4.1"/>
<circle cx="337.1" cy="404.5" r="4.1"/>
<circle cx="322.2" cy="405.1" r="4.1"/>
<circle cx="316.3" cy="403.6" r="4.1"/>
<circle cx="313.8" cy="406.5" r="4.1"/>
<circle cx="319.2" cy="412.5" r="4.1"/>
<circle cx="307.5" cy="393.8" r="4.1"/>
<circle cx="307.9" cy="427.2" r="4.1"/>
<circle cx="340.8" cy="402.5" r="4.1"/>
<circle cx="346.6" cy="401.8" r="4.1"/>
<circle cx="346.6" cy="397.4" r="4.1"/>
<circle cx="350.3" cy="399.6" r="4.1"/>
<circle cx="354.6" cy="397.4" r="4.1"/>
<circle cx="343.0" cy="412.7" r="4.1"/>
<circle cx="349.5" cy="411.2" r="4.1"/>
<circle cx="355.5" cy="408.5" r="4.1"/>
<circle cx="337.5" cy="420.4" r="4.1"/>
<circle cx="335.7" cy="427.2" r="4.1"/>
<circle cx="326.9" cy="387.2" r="4.1"/>
<circle cx="354.6" cy="387.2" r="4.1"/>
<circle cx="354.6" cy="392.3" r="4.1"/>
<circle cx="356.5" cy="390.1" r="4.1"/>
<circle cx="356.1" cy="394.5" r="4.1"/>
<circle cx="356.1" cy="398.1" r="4.1"/>
<circle cx="361.9" cy="393.8" r="4.1"/>
<circle cx="369.2" cy="398.5" r="4.1"/>
<circle cx="367.0" cy="414.9" r="4.1"/>
<circle cx="389.3" cy="390.8" r="4.1"/>
<circle cx="393.3" cy="389.7" r="4.1"/>
<circle cx="393.3" cy="397.4" r="4.1"/>
<circle cx="402.4" cy="390.0" r="4.1"/>
<circle cx="404.6" cy="399.5" r="4.1"/>
<circle cx="407.7" cy="382.8" r="4.1"/>
<circle cx="412.1" cy="395.3" r="4.1"/>
<circle cx="449.3" cy="396.3" r="4.1"/>
<circle cx="348.2" cy="333.3" r="4.1"/>
<circle cx="333.7" cy="337.0" r="4.1"/>
<circle cx="393.1" cy="334.1" r="4.1"/>
<circle cx="268.9" cy="432.3" r="4.1"/>
<circle cx="282.9" cy="417.5" r="4.1"/>
<circle cx="281.3" cy="420.7" r="4.1"/>
<circle cx="281.3" cy="423.9" r="4.1"/>
<circle cx="281.3" cy="426.3" r="4.1"/>
<circle cx="282.1" cy="428.7" r="4.1"/>
<circle cx="291.0" cy="419.4" r="4.1"/>
<circle cx="292.6" cy="429.0" r="4.1"/>
<circle cx="300.3" cy="438.7" r="4.1"/>
<circle cx="294.6" cy="443.9" r="4.1"/>
<circle cx="290.9" cy="486.7" r="4.1"/>
<circle cx="136.8" cy="544.6" r="4.1"/>
</g>
<g id="grid" stroke="#adadad" stroke-width="1.35" fill="none">
<path d="M182.96,9.95V624.45"/>
<path d="M59.10,501.55H678.40"/>
<path d="M306.82,9.95V624.45"/>
<path d="M59.10,378.65H678.40"/>
<path d="M430.68,9.95V624.45"/>
<path d="M59.10,255.75H678.40"/>
<path d="M554.54,9.95V624.45"/>
<path d="M59.10,132.85H678.40"/>
</g>
<path d="M59.10,624.45L678.40,9.95" stroke="#e60820" stroke-opacity="0.58" stroke-width="2.85" stroke-dasharray="10.26 4.433" fill="none"/>
<g stroke="#000" stroke-width="1.55" fill="none">
<rect x="59.10" y="9.95" width="619.30" height="614.50"/>
<path d="M59.10,624.45v6.2"/>
<path d="M59.10,624.45h-6.2"/>
<path d="M182.96,624.45v6.2"/>
<path d="M59.10,501.55h-6.2"/>
<path d="M306.82,624.45v6.2"/>
<path d="M59.10,378.65h-6.2"/>
<path d="M430.68,624.45v6.2"/>
<path d="M59.10,255.75h-6.2"/>
<path d="M554.54,624.45v6.2"/>
<path d="M59.10,132.85h-6.2"/>
<path d="M678.40,624.45v6.2"/>
<path d="M59.10,9.95h-6.2"/>
</g>
<g id="txt" opacity="0.999">
<g font-size="24.4px">
<text x="59.10" y="654.5" text-anchor="middle">0</text>
<text x="46.0" y="632.75" text-anchor="end">0</text>
<text x="182.96" y="654.5" text-anchor="middle">1</text>
<text x="46.0" y="509.85" text-anchor="end">1</text>
<text x="306.82" y="654.5" text-anchor="middle">2</text>
<text x="46.0" y="386.95" text-anchor="end">2</text>
<text x="430.68" y="654.5" text-anchor="middle">3</text>
<text x="46.0" y="264.05" text-anchor="end">3</text>
<text x="554.54" y="654.5" text-anchor="middle">4</text>
<text x="46.0" y="141.15" text-anchor="end">4</text>
<text x="678.40" y="654.5" text-anchor="middle">5</text>
<text x="46.0" y="18.25" text-anchor="end">5</text>
</g>
<text x="258.0" y="684.7" font-size="25.5px">Statistical <tspan dx="0.56">yield </tspan><tspan dx="2.5" letter-spacing="0.4">(t/ha)</tspan></text>
<text transform="translate(19.9,428.0) rotate(-90)" font-size="25.5px">Estimated <tspan dx="0.6">yield </tspan><tspan dx="0.2" letter-spacing="0.3">(t/ha)</tspan></text>
<rect x="70.3" y="21.9" width="190.7" height="62" fill="#fff" stroke="#000" stroke-width="1.5"/>
<text x="78.2" y="45.9" font-size="24px">R² <tspan dx="-0.9">= </tspan><tspan dx="0.8">0.30</tspan></text>
<text x="78.2" y="71.4" font-size="24px">RMSE <tspan dx="-0.5">= </tspan><tspan dx="0.4">0.67 </tspan><tspan dx="-0.3">t/ha</tspan></text>
</g>
</svg></body></html>
